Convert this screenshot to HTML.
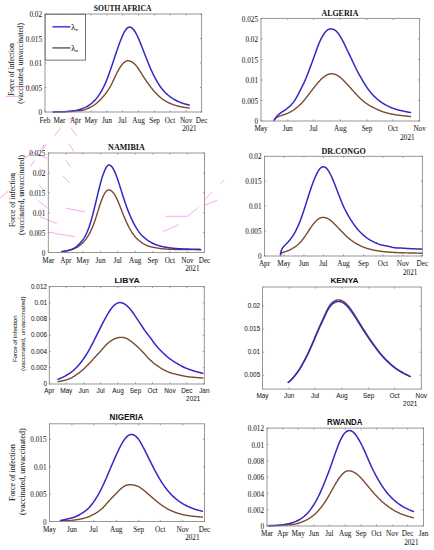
<!DOCTYPE html>
<html><head><meta charset="utf-8"><style>
html,body{margin:0;padding:0;background:#fff;width:434px;height:550px;overflow:hidden}
svg{display:block}
</style></head><body>
<svg width="434" height="550" viewBox="0 0 434 550">
<rect width="434" height="550" fill="#fff"/>
<polyline points="12.4,86.8 30.4,86.8" fill="none" stroke="#ff9cf0" stroke-width="0.9"/>
<polyline points="5.5,96.4 18.7,96.4" fill="none" stroke="#ff9cf0" stroke-width="0.9"/>
<polyline points="68.4,119.1 73.5,117.6 78.7,119.1" fill="none" stroke="#ff9cf0" stroke-width="0.9"/>
<polyline points="54.5,135.7 60.7,128.1" fill="none" stroke="#ff9cf0" stroke-width="0.9"/>
<polyline points="71.1,128.1 76.7,135.7" fill="none" stroke="#ff9cf0" stroke-width="0.9"/>
<polyline points="69.0,144.0 73.9,151.7" fill="none" stroke="#ff9cf0" stroke-width="0.9"/>
<polyline points="42.8,149.6 46.2,144.0" fill="none" stroke="#ff9cf0" stroke-width="0.9"/>
<polyline points="24.9,158.2 32.5,152.5 47.0,158.2" fill="none" stroke="#ff9cf0" stroke-width="0.9"/>
<polyline points="44.3,144.4 40.0,151.3" fill="none" stroke="#ff9cf0" stroke-width="0.9"/>
<polyline points="34.6,160.3 30.4,166.5" fill="none" stroke="#ff9cf0" stroke-width="0.9"/>
<polyline points="39.4,167.9 45.0,173.4" fill="none" stroke="#ff9cf0" stroke-width="0.9"/>
<polyline points="16.6,172.0 11.8,177.6" fill="none" stroke="#ff9cf0" stroke-width="0.9"/>
<polyline points="38.7,184.8 45.6,192.4" fill="none" stroke="#ff9cf0" stroke-width="0.9"/>
<polyline points="38.0,200.7 47.0,207.7" fill="none" stroke="#ff9cf0" stroke-width="0.9"/>
<polyline points="40.1,216.7 56.7,223.6" fill="none" stroke="#ff9cf0" stroke-width="0.9"/>
<polyline points="49.8,231.9 60.0,234.6" fill="none" stroke="#ff9cf0" stroke-width="0.9"/>
<polyline points="0.0,198.0 8.3,191.0" fill="none" stroke="#ff9cf0" stroke-width="0.9"/>
<polyline points="65.9,160.3 70.7,167.2" fill="none" stroke="#ff9cf0" stroke-width="0.9"/>
<polyline points="63.1,176.2 69.4,182.4" fill="none" stroke="#ff9cf0" stroke-width="0.9"/>
<polyline points="165.5,216.3 187.3,216.3 198.5,207.4" fill="none" stroke="#ff9cf0" stroke-width="0.9"/>
<polyline points="203.4,205.8 217.1,200.2" fill="none" stroke="#ff9cf0" stroke-width="0.9"/>
<polyline points="205.0,199.4 212.3,192.1" fill="none" stroke="#ff9cf0" stroke-width="0.9"/>
<polyline points="163.1,231.6 179.2,224.4" fill="none" stroke="#ff9cf0" stroke-width="0.9"/>
<polyline points="220.3,183.2 224.4,180.0" fill="none" stroke="#ff9cf0" stroke-width="0.9"/>
<polyline points="65.8,208.2 85.0,212.0" fill="none" stroke="#ff9cf0" stroke-width="0.9"/>
<polyline points="60.0,234.2 74.5,236.6" fill="none" stroke="#ff9cf0" stroke-width="0.9"/>
<path d="M53.30,111.94 L53.80,111.93 L54.30,111.93 L54.80,111.92 L55.30,111.91 L55.80,111.90 L56.30,111.88 L56.80,111.87 L57.30,111.86 L57.80,111.84 L58.30,111.83 L58.80,111.81 L59.30,111.80 L59.80,111.78 L60.29,111.77 L60.79,111.76 L61.29,111.74 L61.79,111.73 L62.29,111.72 L62.79,111.71 L63.29,111.70 L63.79,111.70 L64.29,111.69 L64.79,111.69 L65.29,111.68 L65.79,111.68 L66.29,111.67 L66.79,111.66 L67.29,111.65 L67.79,111.64 L68.29,111.62 L68.79,111.60 L69.29,111.58 L69.79,111.55 L70.29,111.52 L70.79,111.48 L71.29,111.44 L71.79,111.40 L72.29,111.35 L72.79,111.30 L73.29,111.24 L73.78,111.19 L74.28,111.13 L74.78,111.07 L75.28,111.02 L75.78,110.96 L76.28,110.92 L76.78,110.88 L77.28,110.85 L77.78,110.82 L78.28,110.80 L78.78,110.78 L79.28,110.75 L79.78,110.72 L80.28,110.68 L80.78,110.63 L81.28,110.57 L81.78,110.49 L82.28,110.40 L82.78,110.30 L83.28,110.19 L83.78,110.05 L84.28,109.91 L84.78,109.74 L85.28,109.56 L85.78,109.37 L86.28,109.16 L86.78,108.93 L87.27,108.70 L87.77,108.47 L88.27,108.24 L88.77,108.00 L89.27,107.77 L89.77,107.53 L90.27,107.29 L90.77,107.05 L91.27,106.80 L91.77,106.54 L92.27,106.26 L92.77,105.98 L93.27,105.67 L93.77,105.35 L94.27,105.01 L94.77,104.65 L95.27,104.26 L95.77,103.87 L96.27,103.45 L96.77,103.03 L97.27,102.59 L97.77,102.15 L98.27,101.70 L98.77,101.24 L99.27,100.76 L99.77,100.28 L100.27,99.79 L100.77,99.29 L101.26,98.77 L101.76,98.24 L102.26,97.69 L102.76,97.13 L103.26,96.55 L103.76,95.95 L104.26,95.34 L104.76,94.72 L105.26,94.08 L105.76,93.43 L106.26,92.76 L106.76,92.08 L107.26,91.38 L107.76,90.66 L108.26,89.92 L108.76,89.15 L109.26,88.34 L109.76,87.51 L110.26,86.64 L110.76,85.73 L111.26,84.78 L111.76,83.79 L112.26,82.76 L112.76,81.71 L113.26,80.64 L113.76,79.55 L114.26,78.47 L114.75,77.39 L115.25,76.33 L115.75,75.28 L116.25,74.27 L116.75,73.27 L117.25,72.30 L117.75,71.36 L118.25,70.45 L118.75,69.56 L119.25,68.71 L119.75,67.89 L120.25,67.11 L120.75,66.37 L121.25,65.66 L121.75,65.00 L122.25,64.37 L122.75,63.79 L123.25,63.26 L123.75,62.77 L124.25,62.33 L124.75,61.94 L125.25,61.61 L125.75,61.33 L126.25,61.10 L126.75,60.93 L127.25,60.82 L127.75,60.77 L128.24,60.77 L128.74,60.81 L129.24,60.89 L129.74,61.01 L130.24,61.17 L130.74,61.36 L131.24,61.58 L131.74,61.84 L132.24,62.13 L132.74,62.45 L133.24,62.81 L133.74,63.21 L134.24,63.65 L134.74,64.12 L135.24,64.64 L135.74,65.19 L136.24,65.79 L136.74,66.42 L137.24,67.08 L137.74,67.77 L138.24,68.49 L138.74,69.24 L139.24,70.01 L139.74,70.79 L140.24,71.58 L140.74,72.38 L141.24,73.18 L141.73,73.98 L142.23,74.77 L142.73,75.56 L143.23,76.34 L143.73,77.12 L144.23,77.88 L144.73,78.64 L145.23,79.38 L145.73,80.12 L146.23,80.85 L146.73,81.57 L147.23,82.29 L147.73,83.00 L148.23,83.70 L148.73,84.40 L149.23,85.09 L149.73,85.77 L150.23,86.44 L150.73,87.10 L151.23,87.74 L151.73,88.38 L152.23,89.00 L152.73,89.61 L153.23,90.21 L153.73,90.79 L154.23,91.37 L154.73,91.92 L155.22,92.47 L155.72,93.00 L156.22,93.53 L156.72,94.04 L157.22,94.53 L157.72,95.02 L158.22,95.50 L158.72,95.96 L159.22,96.41 L159.72,96.85 L160.22,97.28 L160.72,97.70 L161.22,98.10 L161.72,98.49 L162.22,98.86 L162.72,99.23 L163.22,99.58 L163.72,99.92 L164.22,100.25 L164.72,100.57 L165.22,100.87 L165.72,101.17 L166.22,101.46 L166.72,101.74 L167.22,102.01 L167.72,102.27 L168.22,102.52 L168.72,102.77 L169.21,103.01 L169.71,103.24 L170.21,103.46 L170.71,103.67 L171.21,103.88 L171.71,104.08 L172.21,104.28 L172.71,104.46 L173.21,104.65 L173.71,104.82 L174.21,104.99 L174.71,105.15 L175.21,105.30 L175.71,105.45 L176.21,105.60 L176.71,105.74 L177.21,105.87 L177.71,106.00 L178.21,106.13 L178.71,106.25 L179.21,106.36 L179.71,106.48 L180.21,106.59 L180.71,106.69 L181.21,106.79 L181.71,106.89 L182.21,106.99 L182.70,107.08 L183.20,107.17 L183.70,107.25 L184.20,107.33 L184.70,107.41 L185.20,107.49 L185.70,107.56 L186.20,107.63 L186.70,107.70 L187.20,107.77 L187.70,107.83 L188.20,107.90 L188.70,107.96 L189.20,108.01" fill="none" stroke="#7a4a30" stroke-width="1.4" stroke-linejoin="round" stroke-linecap="round"/>
<path d="M53.30,111.92 L53.80,111.91 L54.30,111.90 L54.80,111.89 L55.30,111.88 L55.80,111.86 L56.30,111.84 L56.80,111.83 L57.30,111.81 L57.80,111.80 L58.30,111.78 L58.80,111.77 L59.30,111.76 L59.80,111.75 L60.29,111.75 L60.79,111.74 L61.29,111.74 L61.79,111.73 L62.29,111.73 L62.79,111.72 L63.29,111.70 L63.79,111.68 L64.29,111.66 L64.79,111.64 L65.29,111.61 L65.79,111.57 L66.29,111.54 L66.79,111.50 L67.29,111.45 L67.79,111.40 L68.29,111.36 L68.79,111.30 L69.29,111.25 L69.79,111.21 L70.29,111.16 L70.79,111.11 L71.29,111.06 L71.79,111.02 L72.29,110.97 L72.79,110.91 L73.29,110.85 L73.78,110.79 L74.28,110.72 L74.78,110.64 L75.28,110.56 L75.78,110.47 L76.28,110.37 L76.78,110.26 L77.28,110.15 L77.78,110.02 L78.28,109.89 L78.78,109.76 L79.28,109.62 L79.78,109.47 L80.28,109.32 L80.78,109.17 L81.28,109.01 L81.78,108.84 L82.28,108.67 L82.78,108.49 L83.28,108.30 L83.78,108.10 L84.28,107.89 L84.78,107.67 L85.28,107.43 L85.78,107.18 L86.28,106.92 L86.78,106.64 L87.27,106.35 L87.77,106.04 L88.27,105.72 L88.77,105.39 L89.27,105.05 L89.77,104.70 L90.27,104.33 L90.77,103.95 L91.27,103.56 L91.77,103.15 L92.27,102.73 L92.77,102.29 L93.27,101.83 L93.77,101.35 L94.27,100.85 L94.77,100.33 L95.27,99.79 L95.77,99.23 L96.27,98.64 L96.77,98.02 L97.27,97.39 L97.77,96.72 L98.27,96.04 L98.77,95.33 L99.27,94.59 L99.77,93.83 L100.27,93.04 L100.77,92.23 L101.26,91.39 L101.76,90.52 L102.26,89.61 L102.76,88.68 L103.26,87.72 L103.76,86.72 L104.26,85.68 L104.76,84.61 L105.26,83.49 L105.76,82.34 L106.26,81.15 L106.76,79.92 L107.26,78.65 L107.76,77.34 L108.26,75.99 L108.76,74.62 L109.26,73.22 L109.76,71.81 L110.26,70.37 L110.76,68.93 L111.26,67.47 L111.76,66.00 L112.26,64.52 L112.76,63.03 L113.26,61.54 L113.76,60.04 L114.26,58.54 L114.75,57.05 L115.25,55.56 L115.75,54.07 L116.25,52.59 L116.75,51.12 L117.25,49.66 L117.75,48.21 L118.25,46.78 L118.75,45.36 L119.25,43.97 L119.75,42.61 L120.25,41.28 L120.75,39.98 L121.25,38.72 L121.75,37.51 L122.25,36.34 L122.75,35.23 L123.25,34.17 L123.75,33.17 L124.25,32.23 L124.75,31.35 L125.25,30.55 L125.75,29.82 L126.25,29.18 L126.75,28.61 L127.25,28.13 L127.75,27.74 L128.24,27.45 L128.74,27.24 L129.24,27.12 L129.74,27.09 L130.24,27.15 L130.74,27.29 L131.24,27.52 L131.74,27.83 L132.24,28.21 L132.74,28.67 L133.24,29.21 L133.74,29.81 L134.24,30.49 L134.74,31.23 L135.24,32.03 L135.74,32.89 L136.24,33.80 L136.74,34.77 L137.24,35.79 L137.74,36.85 L138.24,37.94 L138.74,39.08 L139.24,40.24 L139.74,41.44 L140.24,42.65 L140.74,43.89 L141.24,45.14 L141.73,46.41 L142.23,47.69 L142.73,48.97 L143.23,50.26 L143.73,51.56 L144.23,52.85 L144.73,54.15 L145.23,55.44 L145.73,56.73 L146.23,58.02 L146.73,59.29 L147.23,60.56 L147.73,61.81 L148.23,63.04 L148.73,64.26 L149.23,65.47 L149.73,66.65 L150.23,67.81 L150.73,68.95 L151.23,70.07 L151.73,71.16 L152.23,72.24 L152.73,73.29 L153.23,74.32 L153.73,75.32 L154.23,76.30 L154.73,77.26 L155.22,78.20 L155.72,79.12 L156.22,80.02 L156.72,80.90 L157.22,81.75 L157.72,82.59 L158.22,83.41 L158.72,84.20 L159.22,84.97 L159.72,85.73 L160.22,86.45 L160.72,87.16 L161.22,87.84 L161.72,88.49 L162.22,89.12 L162.72,89.73 L163.22,90.32 L163.72,90.88 L164.22,91.42 L164.72,91.95 L165.22,92.45 L165.72,92.94 L166.22,93.42 L166.72,93.88 L167.22,94.34 L167.72,94.78 L168.22,95.21 L168.72,95.62 L169.21,96.03 L169.71,96.42 L170.21,96.81 L170.71,97.18 L171.21,97.54 L171.71,97.88 L172.21,98.22 L172.71,98.54 L173.21,98.86 L173.71,99.16 L174.21,99.45 L174.71,99.73 L175.21,100.00 L175.71,100.26 L176.21,100.51 L176.71,100.76 L177.21,101.00 L177.71,101.24 L178.21,101.46 L178.71,101.68 L179.21,101.90 L179.71,102.11 L180.21,102.31 L180.71,102.51 L181.21,102.70 L181.71,102.89 L182.21,103.07 L182.70,103.25 L183.20,103.42 L183.70,103.59 L184.20,103.75 L184.70,103.90 L185.20,104.05 L185.70,104.20 L186.20,104.33 L186.70,104.47 L187.20,104.59 L187.70,104.71 L188.20,104.83 L188.70,104.94 L189.20,105.05" fill="none" stroke="#3626c2" stroke-width="1.5" stroke-linejoin="round" stroke-linecap="round"/>
<rect x="45.00" y="14.00" width="156.60" height="98.00" fill="none" stroke="#8c8c8c" stroke-width="0.9"/>
<text x="45.00" y="123.08" font-family='"Liberation Serif", serif' font-size="7.20" text-anchor="middle" fill="#222222" stroke="#222" stroke-width="0.05">Feb</text>
<text x="59.47" y="123.08" font-family='"Liberation Serif", serif' font-size="7.20" text-anchor="middle" fill="#222222" stroke="#222" stroke-width="0.05">Mar</text>
<text x="75.49" y="123.08" font-family='"Liberation Serif", serif' font-size="7.20" text-anchor="middle" fill="#222222" stroke="#222" stroke-width="0.05">Apr</text>
<text x="91.00" y="123.08" font-family='"Liberation Serif", serif' font-size="7.20" text-anchor="middle" fill="#222222" stroke="#222" stroke-width="0.05">May</text>
<text x="107.02" y="123.08" font-family='"Liberation Serif", serif' font-size="7.20" text-anchor="middle" fill="#222222" stroke="#222" stroke-width="0.05">Jun</text>
<text x="122.52" y="123.08" font-family='"Liberation Serif", serif' font-size="7.20" text-anchor="middle" fill="#222222" stroke="#222" stroke-width="0.05">Jul</text>
<text x="138.55" y="123.08" font-family='"Liberation Serif", serif' font-size="7.20" text-anchor="middle" fill="#222222" stroke="#222" stroke-width="0.05">Aug</text>
<text x="154.57" y="123.08" font-family='"Liberation Serif", serif' font-size="7.20" text-anchor="middle" fill="#222222" stroke="#222" stroke-width="0.05">Sep</text>
<text x="170.07" y="123.08" font-family='"Liberation Serif", serif' font-size="7.20" text-anchor="middle" fill="#222222" stroke="#222" stroke-width="0.05">Oct</text>
<text x="186.10" y="123.08" font-family='"Liberation Serif", serif' font-size="7.20" text-anchor="middle" fill="#222222" stroke="#222" stroke-width="0.05">Nov</text>
<text x="201.60" y="123.08" font-family='"Liberation Serif", serif' font-size="7.20" text-anchor="middle" fill="#222222" stroke="#222" stroke-width="0.05">Dec</text>
<text x="42.00" y="115.18" font-family='"Liberation Serif", serif' font-size="7.20" text-anchor="end" fill="#222222" stroke="#222" stroke-width="0.05">0</text>
<text x="42.00" y="90.68" font-family='"Liberation Serif", serif' font-size="7.20" text-anchor="end" fill="#222222" stroke="#222" stroke-width="0.05">0.005</text>
<text x="42.00" y="66.18" font-family='"Liberation Serif", serif' font-size="7.20" text-anchor="end" fill="#222222" stroke="#222" stroke-width="0.05">0.01</text>
<text x="42.00" y="41.68" font-family='"Liberation Serif", serif' font-size="7.20" text-anchor="end" fill="#222222" stroke="#222" stroke-width="0.05">0.015</text>
<text x="42.00" y="17.18" font-family='"Liberation Serif", serif' font-size="7.20" text-anchor="end" fill="#222222" stroke="#222" stroke-width="0.05">0.02</text>
<path d="M45.00,112.00v-1.6M45.00,14.00v1.6M59.47,112.00v-1.6M59.47,14.00v1.6M75.49,112.00v-1.6M75.49,14.00v1.6M91.00,112.00v-1.6M91.00,14.00v1.6M107.02,112.00v-1.6M107.02,14.00v1.6M122.52,112.00v-1.6M122.52,14.00v1.6M138.55,112.00v-1.6M138.55,14.00v1.6M154.57,112.00v-1.6M154.57,14.00v1.6M170.07,112.00v-1.6M170.07,14.00v1.6M186.10,112.00v-1.6M186.10,14.00v1.6M201.60,112.00v-1.6M201.60,14.00v1.6M45.00,112.00h1.6M201.60,112.00h-1.6M45.00,87.50h1.6M201.60,87.50h-1.6M45.00,63.00h1.6M201.60,63.00h-1.6M45.00,38.50h1.6M201.60,38.50h-1.6M45.00,14.00h1.6M201.60,14.00h-1.6" stroke="#8c8c8c" stroke-width="0.8" fill="none"/>
<text x="196.60" y="131.38" font-family='"Liberation Serif", serif' font-size="7.20" text-anchor="end" fill="#222222" stroke="#222" stroke-width="0.05">2021</text>
<text x="93.80" y="11.20" font-family='"Liberation Serif", serif' font-size="7.60" font-weight="bold" textLength="57.70" lengthAdjust="spacingAndGlyphs" fill="#111">SOUTH AFRICA</text>
<text transform="translate(13.90,69.55) rotate(-90)" x="0" y="0" font-family='"Liberation Serif", serif' font-size="7.50" text-anchor="middle" textLength="52.50" lengthAdjust="spacingAndGlyphs" fill="#222222" stroke="#222" stroke-width="0.05">Force of infection</text>
<text transform="translate(23.20,63.35) rotate(-90)" x="0" y="0" font-family='"Liberation Serif", serif' font-size="7.50" text-anchor="middle" textLength="80.90" lengthAdjust="spacingAndGlyphs" fill="#222222" stroke="#222" stroke-width="0.05">(vaccinated, unvaccinated)</text>
<rect x="45.2" y="14.3" width="40.4" height="45.8" fill="#fff" stroke="#555" stroke-width="0.8"/>
<line x1="52.4" y1="26.8" x2="70.4" y2="26.8" stroke="#5a48e0" stroke-width="1.7"/>
<line x1="52.4" y1="47.9" x2="70.4" y2="47.9" stroke="#8a7060" stroke-width="1.7"/>
<text x="71.2" y="29.6" font-family='"Liberation Serif", serif' font-size="8.2" fill="#1a1a1a" stroke="#1a1a1a" stroke-width="0.12">&#955;<tspan font-size="5" dy="1.3">v</tspan></text>
<text x="71.2" y="50.7" font-family='"Liberation Serif", serif' font-size="8.2" fill="#1a1a1a" stroke="#1a1a1a" stroke-width="0.12">&#955;<tspan font-size="5" dy="1.3">u</tspan></text>
<path d="M274.10,120.49 L274.60,119.57 L275.10,118.85 L275.60,118.29 L276.10,117.83 L276.60,117.46 L277.10,117.15 L277.60,116.89 L278.10,116.67 L278.60,116.46 L279.10,116.28 L279.60,116.11 L280.10,115.95 L280.60,115.80 L281.09,115.65 L281.59,115.50 L282.09,115.35 L282.59,115.20 L283.09,115.04 L283.59,114.88 L284.09,114.71 L284.59,114.53 L285.09,114.34 L285.59,114.15 L286.09,113.95 L286.59,113.74 L287.09,113.52 L287.59,113.30 L288.09,113.07 L288.59,112.84 L289.09,112.59 L289.59,112.34 L290.09,112.08 L290.59,111.81 L291.09,111.54 L291.59,111.25 L292.09,110.95 L292.59,110.65 L293.09,110.33 L293.59,109.99 L294.09,109.65 L294.58,109.29 L295.08,108.93 L295.58,108.55 L296.08,108.16 L296.58,107.76 L297.08,107.35 L297.58,106.93 L298.08,106.49 L298.58,106.05 L299.08,105.60 L299.58,105.14 L300.08,104.67 L300.58,104.18 L301.08,103.68 L301.58,103.16 L302.08,102.63 L302.58,102.09 L303.08,101.53 L303.58,100.96 L304.08,100.38 L304.58,99.79 L305.08,99.18 L305.58,98.56 L306.08,97.93 L306.58,97.29 L307.08,96.64 L307.58,95.99 L308.08,95.33 L308.57,94.67 L309.07,94.01 L309.57,93.35 L310.07,92.69 L310.57,92.03 L311.07,91.37 L311.57,90.71 L312.07,90.05 L312.57,89.39 L313.07,88.74 L313.57,88.09 L314.07,87.45 L314.57,86.82 L315.07,86.19 L315.57,85.57 L316.07,84.95 L316.57,84.35 L317.07,83.75 L317.57,83.16 L318.07,82.58 L318.57,82.01 L319.07,81.46 L319.57,80.91 L320.07,80.38 L320.57,79.86 L321.07,79.36 L321.57,78.87 L322.06,78.40 L322.56,77.95 L323.06,77.52 L323.56,77.10 L324.06,76.71 L324.56,76.34 L325.06,75.99 L325.56,75.66 L326.06,75.36 L326.56,75.08 L327.06,74.83 L327.56,74.60 L328.06,74.40 L328.56,74.22 L329.06,74.07 L329.56,73.95 L330.06,73.86 L330.56,73.79 L331.06,73.75 L331.56,73.73 L332.06,73.74 L332.56,73.78 L333.06,73.84 L333.56,73.93 L334.06,74.04 L334.56,74.18 L335.06,74.35 L335.55,74.53 L336.05,74.75 L336.55,74.98 L337.05,75.24 L337.55,75.52 L338.05,75.83 L338.55,76.15 L339.05,76.50 L339.55,76.86 L340.05,77.25 L340.55,77.65 L341.05,78.08 L341.55,78.52 L342.05,78.97 L342.55,79.44 L343.05,79.93 L343.55,80.43 L344.05,80.94 L344.55,81.45 L345.05,81.98 L345.55,82.51 L346.05,83.05 L346.55,83.60 L347.05,84.14 L347.55,84.69 L348.05,85.24 L348.55,85.80 L349.05,86.35 L349.54,86.90 L350.04,87.46 L350.54,88.02 L351.04,88.57 L351.54,89.13 L352.04,89.69 L352.54,90.24 L353.04,90.80 L353.54,91.35 L354.04,91.90 L354.54,92.45 L355.04,93.00 L355.54,93.54 L356.04,94.08 L356.54,94.62 L357.04,95.16 L357.54,95.69 L358.04,96.21 L358.54,96.72 L359.04,97.23 L359.54,97.72 L360.04,98.20 L360.54,98.67 L361.04,99.14 L361.54,99.59 L362.04,100.03 L362.54,100.46 L363.03,100.88 L363.53,101.29 L364.03,101.69 L364.53,102.08 L365.03,102.46 L365.53,102.84 L366.03,103.20 L366.53,103.55 L367.03,103.90 L367.53,104.24 L368.03,104.57 L368.53,104.90 L369.03,105.22 L369.53,105.53 L370.03,105.83 L370.53,106.12 L371.03,106.41 L371.53,106.68 L372.03,106.95 L372.53,107.21 L373.03,107.46 L373.53,107.71 L374.03,107.96 L374.53,108.20 L375.03,108.43 L375.53,108.67 L376.03,108.90 L376.52,109.13 L377.02,109.35 L377.52,109.57 L378.02,109.79 L378.52,110.01 L379.02,110.23 L379.52,110.44 L380.02,110.65 L380.52,110.85 L381.02,111.05 L381.52,111.25 L382.02,111.44 L382.52,111.62 L383.02,111.80 L383.52,111.97 L384.02,112.13 L384.52,112.28 L385.02,112.44 L385.52,112.58 L386.02,112.72 L386.52,112.86 L387.02,112.99 L387.52,113.12 L388.02,113.25 L388.52,113.38 L389.02,113.50 L389.52,113.61 L390.02,113.73 L390.51,113.84 L391.01,113.94 L391.51,114.05 L392.01,114.15 L392.51,114.25 L393.01,114.34 L393.51,114.43 L394.01,114.52 L394.51,114.60 L395.01,114.68 L395.51,114.76 L396.01,114.83 L396.51,114.91 L397.01,114.98 L397.51,115.04 L398.01,115.11 L398.51,115.17 L399.01,115.24 L399.51,115.30 L400.01,115.36 L400.51,115.42 L401.01,115.48 L401.51,115.54 L402.01,115.59 L402.51,115.65 L403.01,115.71 L403.51,115.77 L404.00,115.83 L404.50,115.89 L405.00,115.95 L405.50,116.01 L406.00,116.07 L406.50,116.13 L407.00,116.19 L407.50,116.24 L408.00,116.30 L408.50,116.35 L409.00,116.39 L409.50,116.44 L410.00,116.48 L410.50,116.51" fill="none" stroke="#7a4a30" stroke-width="1.4" stroke-linejoin="round" stroke-linecap="round"/>
<path d="M274.10,120.36 L274.60,119.46 L275.10,118.65 L275.60,117.92 L276.10,117.24 L276.60,116.63 L277.10,116.06 L277.60,115.53 L278.10,115.03 L278.60,114.57 L279.10,114.13 L279.60,113.72 L280.10,113.32 L280.60,112.95 L281.09,112.59 L281.59,112.24 L282.09,111.91 L282.59,111.58 L283.09,111.25 L283.59,110.92 L284.09,110.60 L284.59,110.27 L285.09,109.94 L285.59,109.59 L286.09,109.24 L286.59,108.88 L287.09,108.50 L287.59,108.11 L288.09,107.70 L288.59,107.28 L289.09,106.85 L289.59,106.39 L290.09,105.93 L290.59,105.44 L291.09,104.93 L291.59,104.41 L292.09,103.85 L292.59,103.27 L293.09,102.65 L293.59,102.00 L294.09,101.32 L294.58,100.60 L295.08,99.84 L295.58,99.05 L296.08,98.22 L296.58,97.37 L297.08,96.48 L297.58,95.57 L298.08,94.63 L298.58,93.67 L299.08,92.69 L299.58,91.70 L300.08,90.70 L300.58,89.69 L301.08,88.68 L301.58,87.67 L302.08,86.67 L302.58,85.66 L303.08,84.65 L303.58,83.62 L304.08,82.58 L304.58,81.50 L305.08,80.38 L305.58,79.23 L306.08,78.04 L306.58,76.81 L307.08,75.56 L307.58,74.28 L308.08,72.99 L308.57,71.68 L309.07,70.36 L309.57,69.04 L310.07,67.71 L310.57,66.38 L311.07,65.05 L311.57,63.71 L312.07,62.36 L312.57,61.00 L313.07,59.63 L313.57,58.25 L314.07,56.85 L314.57,55.45 L315.07,54.03 L315.57,52.62 L316.07,51.21 L316.57,49.81 L317.07,48.43 L317.57,47.08 L318.07,45.77 L318.57,44.50 L319.07,43.28 L319.57,42.12 L320.07,41.00 L320.57,39.93 L321.07,38.91 L321.57,37.94 L322.06,37.01 L322.56,36.13 L323.06,35.28 L323.56,34.48 L324.06,33.72 L324.56,33.01 L325.06,32.36 L325.56,31.75 L326.06,31.20 L326.56,30.71 L327.06,30.28 L327.56,29.91 L328.06,29.60 L328.56,29.35 L329.06,29.16 L329.56,29.02 L330.06,28.93 L330.56,28.89 L331.06,28.89 L331.56,28.94 L332.06,29.02 L332.56,29.13 L333.06,29.28 L333.56,29.46 L334.06,29.68 L334.56,29.95 L335.06,30.26 L335.55,30.62 L336.05,31.03 L336.55,31.49 L337.05,32.01 L337.55,32.58 L338.05,33.20 L338.55,33.86 L339.05,34.56 L339.55,35.31 L340.05,36.09 L340.55,36.90 L341.05,37.75 L341.55,38.63 L342.05,39.54 L342.55,40.48 L343.05,41.44 L343.55,42.43 L344.05,43.44 L344.55,44.47 L345.05,45.51 L345.55,46.56 L346.05,47.60 L346.55,48.65 L347.05,49.70 L347.55,50.74 L348.05,51.78 L348.55,52.81 L349.05,53.85 L349.54,54.88 L350.04,55.91 L350.54,56.95 L351.04,58.00 L351.54,59.05 L352.04,60.10 L352.54,61.17 L353.04,62.24 L353.54,63.31 L354.04,64.37 L354.54,65.44 L355.04,66.49 L355.54,67.52 L356.04,68.54 L356.54,69.54 L357.04,70.52 L357.54,71.48 L358.04,72.42 L358.54,73.35 L359.04,74.26 L359.54,75.16 L360.04,76.05 L360.54,76.93 L361.04,77.81 L361.54,78.68 L362.04,79.55 L362.54,80.41 L363.03,81.26 L363.53,82.10 L364.03,82.94 L364.53,83.76 L365.03,84.57 L365.53,85.36 L366.03,86.13 L366.53,86.88 L367.03,87.61 L367.53,88.32 L368.03,89.02 L368.53,89.69 L369.03,90.35 L369.53,90.99 L370.03,91.62 L370.53,92.23 L371.03,92.83 L371.53,93.41 L372.03,93.98 L372.53,94.53 L373.03,95.07 L373.53,95.59 L374.03,96.11 L374.53,96.60 L375.03,97.09 L375.53,97.56 L376.03,98.02 L376.52,98.47 L377.02,98.90 L377.52,99.33 L378.02,99.74 L378.52,100.15 L379.02,100.54 L379.52,100.93 L380.02,101.30 L380.52,101.67 L381.02,102.03 L381.52,102.38 L382.02,102.72 L382.52,103.05 L383.02,103.37 L383.52,103.69 L384.02,104.00 L384.52,104.30 L385.02,104.59 L385.52,104.88 L386.02,105.16 L386.52,105.43 L387.02,105.69 L387.52,105.95 L388.02,106.20 L388.52,106.44 L389.02,106.67 L389.52,106.90 L390.02,107.12 L390.51,107.33 L391.01,107.54 L391.51,107.74 L392.01,107.93 L392.51,108.12 L393.01,108.31 L393.51,108.48 L394.01,108.66 L394.51,108.82 L395.01,108.99 L395.51,109.14 L396.01,109.30 L396.51,109.44 L397.01,109.59 L397.51,109.73 L398.01,109.86 L398.51,109.99 L399.01,110.12 L399.51,110.24 L400.01,110.36 L400.51,110.48 L401.01,110.60 L401.51,110.71 L402.01,110.82 L402.51,110.93 L403.01,111.03 L403.51,111.14 L404.00,111.25 L404.50,111.36 L405.00,111.47 L405.50,111.57 L406.00,111.68 L406.50,111.78 L407.00,111.89 L407.50,111.98 L408.00,112.08 L408.50,112.16 L409.00,112.25 L409.50,112.32 L410.00,112.39 L410.50,112.46" fill="none" stroke="#3626c2" stroke-width="1.5" stroke-linejoin="round" stroke-linecap="round"/>
<rect x="261.00" y="18.40" width="158.60" height="102.60" fill="none" stroke="#8c8c8c" stroke-width="0.9"/>
<text x="261.00" y="131.48" font-family='"Liberation Serif", serif' font-size="7.20" text-anchor="middle" fill="#222222" stroke="#222" stroke-width="0.05">May</text>
<text x="287.72" y="131.48" font-family='"Liberation Serif", serif' font-size="7.20" text-anchor="middle" fill="#222222" stroke="#222" stroke-width="0.05">Jun</text>
<text x="313.58" y="131.48" font-family='"Liberation Serif", serif' font-size="7.20" text-anchor="middle" fill="#222222" stroke="#222" stroke-width="0.05">Jul</text>
<text x="340.30" y="131.48" font-family='"Liberation Serif", serif' font-size="7.20" text-anchor="middle" fill="#222222" stroke="#222" stroke-width="0.05">Aug</text>
<text x="367.02" y="131.48" font-family='"Liberation Serif", serif' font-size="7.20" text-anchor="middle" fill="#222222" stroke="#222" stroke-width="0.05">Sep</text>
<text x="392.88" y="131.48" font-family='"Liberation Serif", serif' font-size="7.20" text-anchor="middle" fill="#222222" stroke="#222" stroke-width="0.05">Oct</text>
<text x="419.60" y="131.48" font-family='"Liberation Serif", serif' font-size="7.20" text-anchor="middle" fill="#222222" stroke="#222" stroke-width="0.05">Nov</text>
<text x="258.00" y="124.18" font-family='"Liberation Serif", serif' font-size="7.20" text-anchor="end" fill="#222222" stroke="#222" stroke-width="0.05">0</text>
<text x="258.00" y="103.66" font-family='"Liberation Serif", serif' font-size="7.20" text-anchor="end" fill="#222222" stroke="#222" stroke-width="0.05">0.005</text>
<text x="258.00" y="83.14" font-family='"Liberation Serif", serif' font-size="7.20" text-anchor="end" fill="#222222" stroke="#222" stroke-width="0.05">0.01</text>
<text x="258.00" y="62.62" font-family='"Liberation Serif", serif' font-size="7.20" text-anchor="end" fill="#222222" stroke="#222" stroke-width="0.05">0.015</text>
<text x="258.00" y="42.10" font-family='"Liberation Serif", serif' font-size="7.20" text-anchor="end" fill="#222222" stroke="#222" stroke-width="0.05">0.02</text>
<text x="258.00" y="21.58" font-family='"Liberation Serif", serif' font-size="7.20" text-anchor="end" fill="#222222" stroke="#222" stroke-width="0.05">0.025</text>
<path d="M261.00,121.00v-1.6M261.00,18.40v1.6M287.72,121.00v-1.6M287.72,18.40v1.6M313.58,121.00v-1.6M313.58,18.40v1.6M340.30,121.00v-1.6M340.30,18.40v1.6M367.02,121.00v-1.6M367.02,18.40v1.6M392.88,121.00v-1.6M392.88,18.40v1.6M419.60,121.00v-1.6M419.60,18.40v1.6M261.00,121.00h1.6M419.60,121.00h-1.6M261.00,100.48h1.6M419.60,100.48h-1.6M261.00,79.96h1.6M419.60,79.96h-1.6M261.00,59.44h1.6M419.60,59.44h-1.6M261.00,38.92h1.6M419.60,38.92h-1.6M261.00,18.40h1.6M419.60,18.40h-1.6" stroke="#8c8c8c" stroke-width="0.8" fill="none"/>
<text x="414.60" y="139.88" font-family='"Liberation Serif", serif' font-size="7.20" text-anchor="end" fill="#222222" stroke="#222" stroke-width="0.05">2021</text>
<text x="321.50" y="15.60" font-family='"Liberation Serif", serif' font-size="7.80" font-weight="bold" textLength="36.90" lengthAdjust="spacingAndGlyphs" fill="#111">ALGERIA</text>
<path d="M61.90,251.56 L62.40,251.50 L62.90,251.45 L63.40,251.39 L63.90,251.33 L64.39,251.27 L64.89,251.20 L65.39,251.12 L65.89,251.04 L66.39,250.96 L66.89,250.87 L67.39,250.77 L67.89,250.67 L68.39,250.56 L68.88,250.44 L69.38,250.32 L69.88,250.19 L70.38,250.05 L70.88,249.91 L71.38,249.76 L71.88,249.61 L72.38,249.45 L72.88,249.27 L73.38,249.09 L73.87,248.90 L74.37,248.69 L74.87,248.47 L75.37,248.23 L75.87,247.97 L76.37,247.69 L76.87,247.40 L77.37,247.08 L77.87,246.75 L78.36,246.41 L78.86,246.05 L79.36,245.67 L79.86,245.29 L80.36,244.89 L80.86,244.47 L81.36,244.04 L81.86,243.59 L82.36,243.12 L82.85,242.64 L83.35,242.14 L83.85,241.62 L84.35,241.08 L84.85,240.52 L85.35,239.92 L85.85,239.29 L86.35,238.62 L86.85,237.91 L87.34,237.16 L87.84,236.37 L88.34,235.54 L88.84,234.67 L89.34,233.76 L89.84,232.82 L90.34,231.83 L90.84,230.81 L91.34,229.74 L91.84,228.63 L92.33,227.48 L92.83,226.28 L93.33,225.03 L93.83,223.72 L94.33,222.36 L94.83,220.95 L95.33,219.48 L95.83,217.96 L96.33,216.40 L96.82,214.81 L97.32,213.20 L97.82,211.59 L98.32,209.98 L98.82,208.38 L99.32,206.81 L99.82,205.28 L100.32,203.78 L100.82,202.34 L101.31,200.94 L101.81,199.61 L102.31,198.34 L102.81,197.15 L103.31,196.03 L103.81,194.99 L104.31,194.03 L104.81,193.17 L105.31,192.40 L105.81,191.72 L106.30,191.15 L106.80,190.68 L107.30,190.31 L107.80,190.06 L108.30,189.91 L108.80,189.88 L109.30,189.93 L109.80,190.05 L110.30,190.24 L110.79,190.50 L111.29,190.83 L111.79,191.23 L112.29,191.70 L112.79,192.23 L113.29,192.82 L113.79,193.48 L114.29,194.20 L114.79,194.98 L115.28,195.82 L115.78,196.72 L116.28,197.68 L116.78,198.70 L117.28,199.77 L117.78,200.89 L118.28,202.06 L118.78,203.26 L119.28,204.49 L119.77,205.74 L120.27,207.02 L120.77,208.30 L121.27,209.59 L121.77,210.87 L122.27,212.15 L122.77,213.42 L123.27,214.68 L123.77,215.91 L124.27,217.13 L124.76,218.32 L125.26,219.49 L125.76,220.63 L126.26,221.74 L126.76,222.82 L127.26,223.87 L127.76,224.89 L128.26,225.88 L128.76,226.84 L129.25,227.77 L129.75,228.67 L130.25,229.55 L130.75,230.40 L131.25,231.22 L131.75,232.02 L132.25,232.78 L132.75,233.52 L133.25,234.24 L133.74,234.92 L134.24,235.57 L134.74,236.20 L135.24,236.79 L135.74,237.36 L136.24,237.90 L136.74,238.41 L137.24,238.90 L137.74,239.37 L138.23,239.82 L138.73,240.26 L139.23,240.68 L139.73,241.08 L140.23,241.47 L140.73,241.85 L141.23,242.21 L141.73,242.57 L142.23,242.90 L142.73,243.23 L143.22,243.54 L143.72,243.84 L144.22,244.14 L144.72,244.42 L145.22,244.69 L145.72,244.94 L146.22,245.19 L146.72,245.42 L147.22,245.64 L147.71,245.85 L148.21,246.03 L148.71,246.21 L149.21,246.37 L149.71,246.51 L150.21,246.65 L150.71,246.77 L151.21,246.88 L151.71,246.99 L152.20,247.09 L152.70,247.19 L153.20,247.29 L153.70,247.38 L154.20,247.47 L154.70,247.56 L155.20,247.65 L155.70,247.74 L156.20,247.83 L156.69,247.91 L157.19,248.00 L157.69,248.09 L158.19,248.17 L158.69,248.26 L159.19,248.34 L159.69,248.42 L160.19,248.50 L160.69,248.58 L161.19,248.65 L161.68,248.71 L162.18,248.77 L162.68,248.82 L163.18,248.87 L163.68,248.91 L164.18,248.95 L164.68,248.99 L165.18,249.02 L165.68,249.05 L166.17,249.08 L166.67,249.11 L167.17,249.14 L167.67,249.17 L168.17,249.19 L168.67,249.22 L169.17,249.24 L169.67,249.26 L170.17,249.29 L170.66,249.31 L171.16,249.33 L171.66,249.35 L172.16,249.37 L172.66,249.39 L173.16,249.40 L173.66,249.42 L174.16,249.43 L174.66,249.44 L175.16,249.45 L175.65,249.46 L176.15,249.47 L176.65,249.48 L177.15,249.49 L177.65,249.49 L178.15,249.50 L178.65,249.50 L179.15,249.50 L179.65,249.50 L180.14,249.51 L180.64,249.51 L181.14,249.51 L181.64,249.51 L182.14,249.52 L182.64,249.52 L183.14,249.52 L183.64,249.53 L184.14,249.53 L184.63,249.53 L185.13,249.54 L185.63,249.54 L186.13,249.54 L186.63,249.55 L187.13,249.55 L187.63,249.55 L188.13,249.56 L188.63,249.56 L189.12,249.56 L189.62,249.56 L190.12,249.57 L190.62,249.57 L191.12,249.57 L191.62,249.58 L192.12,249.58 L192.62,249.59 L193.12,249.59 L193.62,249.60 L194.11,249.61 L194.61,249.63 L195.11,249.65 L195.61,249.66 L196.11,249.68 L196.61,249.70 L197.11,249.72 L197.61,249.74 L198.11,249.76 L198.60,249.77 L199.10,249.78 L199.60,249.79 L200.10,249.79 L200.60,249.80" fill="none" stroke="#7a4a30" stroke-width="1.4" stroke-linejoin="round" stroke-linecap="round"/>
<path d="M61.90,251.63 L62.40,251.57 L62.90,251.51 L63.40,251.44 L63.90,251.36 L64.39,251.28 L64.89,251.19 L65.39,251.09 L65.89,250.98 L66.39,250.86 L66.89,250.73 L67.39,250.60 L67.89,250.47 L68.39,250.33 L68.88,250.18 L69.38,250.04 L69.88,249.88 L70.38,249.72 L70.88,249.56 L71.38,249.38 L71.88,249.20 L72.38,249.00 L72.88,248.79 L73.38,248.55 L73.87,248.30 L74.37,248.01 L74.87,247.70 L75.37,247.37 L75.87,247.00 L76.37,246.62 L76.87,246.21 L77.37,245.79 L77.87,245.34 L78.36,244.88 L78.86,244.39 L79.36,243.89 L79.86,243.37 L80.36,242.83 L80.86,242.26 L81.36,241.68 L81.86,241.08 L82.36,240.45 L82.85,239.80 L83.35,239.10 L83.85,238.36 L84.35,237.57 L84.85,236.72 L85.35,235.81 L85.85,234.84 L86.35,233.80 L86.85,232.70 L87.34,231.54 L87.84,230.31 L88.34,229.03 L88.84,227.68 L89.34,226.26 L89.84,224.78 L90.34,223.22 L90.84,221.60 L91.34,219.90 L91.84,218.14 L92.33,216.31 L92.83,214.42 L93.33,212.47 L93.83,210.47 L94.33,208.44 L94.83,206.37 L95.33,204.29 L95.83,202.20 L96.33,200.10 L96.82,198.00 L97.32,195.92 L97.82,193.85 L98.32,191.80 L98.82,189.77 L99.32,187.78 L99.82,185.84 L100.32,183.94 L100.82,182.10 L101.31,180.34 L101.81,178.64 L102.31,177.03 L102.81,175.50 L103.31,174.05 L103.81,172.68 L104.31,171.41 L104.81,170.23 L105.31,169.14 L105.81,168.17 L106.30,167.31 L106.80,166.58 L107.30,165.99 L107.80,165.53 L108.30,165.22 L108.80,165.06 L109.30,165.04 L109.80,165.13 L110.30,165.34 L110.79,165.66 L111.29,166.09 L111.79,166.63 L112.29,167.28 L112.79,168.03 L113.29,168.87 L113.79,169.80 L114.29,170.82 L114.79,171.91 L115.28,173.07 L115.78,174.30 L116.28,175.58 L116.78,176.92 L117.28,178.31 L117.78,179.75 L118.28,181.23 L118.78,182.74 L119.28,184.28 L119.77,185.85 L120.27,187.44 L120.77,189.03 L121.27,190.63 L121.77,192.23 L122.27,193.83 L122.77,195.41 L123.27,196.97 L123.77,198.52 L124.27,200.04 L124.76,201.54 L125.26,203.01 L125.76,204.45 L126.26,205.85 L126.76,207.23 L127.26,208.57 L127.76,209.88 L128.26,211.16 L128.76,212.41 L129.25,213.63 L129.75,214.82 L130.25,215.98 L130.75,217.12 L131.25,218.22 L131.75,219.30 L132.25,220.36 L132.75,221.38 L133.25,222.38 L133.74,223.36 L134.24,224.31 L134.74,225.23 L135.24,226.12 L135.74,226.99 L136.24,227.83 L136.74,228.63 L137.24,229.41 L137.74,230.16 L138.23,230.88 L138.73,231.58 L139.23,232.24 L139.73,232.88 L140.23,233.49 L140.73,234.08 L141.23,234.64 L141.73,235.17 L142.23,235.69 L142.73,236.18 L143.22,236.66 L143.72,237.12 L144.22,237.56 L144.72,237.99 L145.22,238.41 L145.72,238.82 L146.22,239.21 L146.72,239.59 L147.22,239.95 L147.71,240.31 L148.21,240.66 L148.71,240.99 L149.21,241.31 L149.71,241.63 L150.21,241.93 L150.71,242.22 L151.21,242.50 L151.71,242.78 L152.20,243.04 L152.70,243.29 L153.20,243.54 L153.70,243.77 L154.20,244.00 L154.70,244.21 L155.20,244.41 L155.70,244.61 L156.20,244.80 L156.69,244.98 L157.19,245.15 L157.69,245.32 L158.19,245.48 L158.69,245.63 L159.19,245.78 L159.69,245.92 L160.19,246.06 L160.69,246.19 L161.19,246.32 L161.68,246.44 L162.18,246.56 L162.68,246.67 L163.18,246.78 L163.68,246.88 L164.18,246.98 L164.68,247.08 L165.18,247.17 L165.68,247.26 L166.17,247.34 L166.67,247.43 L167.17,247.50 L167.67,247.58 L168.17,247.65 L168.67,247.72 L169.17,247.79 L169.67,247.86 L170.17,247.92 L170.66,247.98 L171.16,248.04 L171.66,248.10 L172.16,248.15 L172.66,248.20 L173.16,248.25 L173.66,248.30 L174.16,248.35 L174.66,248.39 L175.16,248.44 L175.65,248.48 L176.15,248.52 L176.65,248.56 L177.15,248.60 L177.65,248.64 L178.15,248.67 L178.65,248.70 L179.15,248.73 L179.65,248.77 L180.14,248.79 L180.64,248.82 L181.14,248.85 L181.64,248.87 L182.14,248.90 L182.64,248.92 L183.14,248.94 L183.64,248.96 L184.14,248.98 L184.63,249.00 L185.13,249.02 L185.63,249.04 L186.13,249.06 L186.63,249.07 L187.13,249.09 L187.63,249.10 L188.13,249.12 L188.63,249.13 L189.12,249.15 L189.62,249.16 L190.12,249.18 L190.62,249.19 L191.12,249.20 L191.62,249.21 L192.12,249.22 L192.62,249.24 L193.12,249.25 L193.62,249.26 L194.11,249.27 L194.61,249.28 L195.11,249.29 L195.61,249.30 L196.11,249.31 L196.61,249.32 L197.11,249.33 L197.61,249.34 L198.11,249.35 L198.60,249.35 L199.10,249.36 L199.60,249.37 L200.10,249.38 L200.60,249.38" fill="none" stroke="#3626c2" stroke-width="1.5" stroke-linejoin="round" stroke-linecap="round"/>
<rect x="48.30" y="153.00" width="156.20" height="99.50" fill="none" stroke="#8c8c8c" stroke-width="0.9"/>
<text x="48.30" y="262.98" font-family='"Liberation Serif", serif' font-size="7.20" text-anchor="middle" fill="#222222" stroke="#222" stroke-width="0.05">Mar</text>
<text x="65.91" y="262.98" font-family='"Liberation Serif", serif' font-size="7.20" text-anchor="middle" fill="#222222" stroke="#222" stroke-width="0.05">Apr</text>
<text x="82.95" y="262.98" font-family='"Liberation Serif", serif' font-size="7.20" text-anchor="middle" fill="#222222" stroke="#222" stroke-width="0.05">May</text>
<text x="100.56" y="262.98" font-family='"Liberation Serif", serif' font-size="7.20" text-anchor="middle" fill="#222222" stroke="#222" stroke-width="0.05">Jun</text>
<text x="117.60" y="262.98" font-family='"Liberation Serif", serif' font-size="7.20" text-anchor="middle" fill="#222222" stroke="#222" stroke-width="0.05">Jul</text>
<text x="135.20" y="262.98" font-family='"Liberation Serif", serif' font-size="7.20" text-anchor="middle" fill="#222222" stroke="#222" stroke-width="0.05">Aug</text>
<text x="152.81" y="262.98" font-family='"Liberation Serif", serif' font-size="7.20" text-anchor="middle" fill="#222222" stroke="#222" stroke-width="0.05">Sep</text>
<text x="169.85" y="262.98" font-family='"Liberation Serif", serif' font-size="7.20" text-anchor="middle" fill="#222222" stroke="#222" stroke-width="0.05">Oct</text>
<text x="187.46" y="262.98" font-family='"Liberation Serif", serif' font-size="7.20" text-anchor="middle" fill="#222222" stroke="#222" stroke-width="0.05">Nov</text>
<text x="204.50" y="262.98" font-family='"Liberation Serif", serif' font-size="7.20" text-anchor="middle" fill="#222222" stroke="#222" stroke-width="0.05">Dec</text>
<text x="45.30" y="255.68" font-family='"Liberation Serif", serif' font-size="7.20" text-anchor="end" fill="#222222" stroke="#222" stroke-width="0.05">0</text>
<text x="45.30" y="235.78" font-family='"Liberation Serif", serif' font-size="7.20" text-anchor="end" fill="#222222" stroke="#222" stroke-width="0.05">0.005</text>
<text x="45.30" y="215.88" font-family='"Liberation Serif", serif' font-size="7.20" text-anchor="end" fill="#222222" stroke="#222" stroke-width="0.05">0.01</text>
<text x="45.30" y="195.98" font-family='"Liberation Serif", serif' font-size="7.20" text-anchor="end" fill="#222222" stroke="#222" stroke-width="0.05">0.015</text>
<text x="45.30" y="176.08" font-family='"Liberation Serif", serif' font-size="7.20" text-anchor="end" fill="#222222" stroke="#222" stroke-width="0.05">0.02</text>
<text x="45.30" y="156.18" font-family='"Liberation Serif", serif' font-size="7.20" text-anchor="end" fill="#222222" stroke="#222" stroke-width="0.05">0.025</text>
<path d="M48.30,252.50v-1.6M48.30,153.00v1.6M65.91,252.50v-1.6M65.91,153.00v1.6M82.95,252.50v-1.6M82.95,153.00v1.6M100.56,252.50v-1.6M100.56,153.00v1.6M117.60,252.50v-1.6M117.60,153.00v1.6M135.20,252.50v-1.6M135.20,153.00v1.6M152.81,252.50v-1.6M152.81,153.00v1.6M169.85,252.50v-1.6M169.85,153.00v1.6M187.46,252.50v-1.6M187.46,153.00v1.6M204.50,252.50v-1.6M204.50,153.00v1.6M48.30,252.50h1.6M204.50,252.50h-1.6M48.30,232.60h1.6M204.50,232.60h-1.6M48.30,212.70h1.6M204.50,212.70h-1.6M48.30,192.80h1.6M204.50,192.80h-1.6M48.30,172.90h1.6M204.50,172.90h-1.6M48.30,153.00h1.6M204.50,153.00h-1.6" stroke="#8c8c8c" stroke-width="0.8" fill="none"/>
<text x="199.50" y="271.38" font-family='"Liberation Serif", serif' font-size="7.20" text-anchor="end" fill="#222222" stroke="#222" stroke-width="0.05">2021</text>
<text x="108.10" y="150.10" font-family='"Liberation Serif", serif' font-size="7.80" font-weight="bold" textLength="36.60" lengthAdjust="spacingAndGlyphs" fill="#111">NAMIBIA</text>
<text transform="translate(15.00,199.90) rotate(-90)" x="0" y="0" font-family='"Liberation Serif", serif' font-size="7.50" text-anchor="middle" textLength="54.00" lengthAdjust="spacingAndGlyphs" fill="#222222" stroke="#222" stroke-width="0.05">Force of infection</text>
<text transform="translate(23.60,195.00) rotate(-90)" x="0" y="0" font-family='"Liberation Serif", serif' font-size="7.50" text-anchor="middle" textLength="80.20" lengthAdjust="spacingAndGlyphs" fill="#222222" stroke="#222" stroke-width="0.05">(vaccinated, unvaccinated)</text>
<path d="M280.40,255.22 L280.90,253.95 L281.40,253.26 L281.90,252.86 L282.39,252.61 L282.89,252.42 L283.39,252.26 L283.89,252.12 L284.39,251.98 L284.89,251.84 L285.39,251.68 L285.88,251.52 L286.38,251.35 L286.88,251.16 L287.38,250.96 L287.88,250.75 L288.38,250.53 L288.88,250.30 L289.37,250.06 L289.87,249.81 L290.37,249.56 L290.87,249.30 L291.37,249.03 L291.87,248.76 L292.37,248.47 L292.86,248.18 L293.36,247.88 L293.86,247.56 L294.36,247.24 L294.86,246.90 L295.36,246.56 L295.86,246.21 L296.35,245.84 L296.85,245.46 L297.35,245.06 L297.85,244.64 L298.35,244.21 L298.85,243.75 L299.35,243.26 L299.85,242.76 L300.34,242.23 L300.84,241.68 L301.34,241.11 L301.84,240.51 L302.34,239.90 L302.84,239.27 L303.34,238.61 L303.83,237.94 L304.33,237.25 L304.83,236.53 L305.33,235.81 L305.83,235.06 L306.33,234.31 L306.83,233.55 L307.32,232.78 L307.82,232.02 L308.32,231.26 L308.82,230.50 L309.32,229.75 L309.82,229.01 L310.32,228.28 L310.81,227.56 L311.31,226.86 L311.81,226.16 L312.31,225.48 L312.81,224.82 L313.31,224.18 L313.81,223.55 L314.30,222.95 L314.80,222.37 L315.30,221.81 L315.80,221.27 L316.30,220.77 L316.80,220.29 L317.30,219.84 L317.79,219.43 L318.29,219.05 L318.79,218.71 L319.29,218.40 L319.79,218.14 L320.29,217.91 L320.79,217.73 L321.28,217.58 L321.78,217.48 L322.28,217.41 L322.78,217.39 L323.28,217.40 L323.78,217.44 L324.28,217.50 L324.77,217.59 L325.27,217.70 L325.77,217.84 L326.27,218.00 L326.77,218.18 L327.27,218.39 L327.77,218.63 L328.26,218.88 L328.76,219.17 L329.26,219.48 L329.76,219.81 L330.26,220.17 L330.76,220.54 L331.26,220.94 L331.75,221.36 L332.25,221.80 L332.75,222.25 L333.25,222.72 L333.75,223.21 L334.25,223.70 L334.75,224.21 L335.25,224.72 L335.74,225.24 L336.24,225.77 L336.74,226.29 L337.24,226.82 L337.74,227.36 L338.24,227.89 L338.74,228.42 L339.23,228.95 L339.73,229.47 L340.23,230.00 L340.73,230.52 L341.23,231.04 L341.73,231.55 L342.23,232.06 L342.72,232.57 L343.22,233.07 L343.72,233.56 L344.22,234.06 L344.72,234.54 L345.22,235.02 L345.72,235.49 L346.21,235.96 L346.71,236.42 L347.21,236.87 L347.71,237.32 L348.21,237.75 L348.71,238.18 L349.21,238.60 L349.70,239.01 L350.20,239.41 L350.70,239.81 L351.20,240.19 L351.70,240.57 L352.20,240.94 L352.70,241.30 L353.19,241.65 L353.69,242.00 L354.19,242.33 L354.69,242.66 L355.19,242.98 L355.69,243.29 L356.19,243.59 L356.68,243.88 L357.18,244.17 L357.68,244.45 L358.18,244.72 L358.68,244.98 L359.18,245.23 L359.68,245.48 L360.17,245.72 L360.67,245.96 L361.17,246.18 L361.67,246.40 L362.17,246.62 L362.67,246.83 L363.17,247.03 L363.66,247.22 L364.16,247.41 L364.66,247.59 L365.16,247.77 L365.66,247.94 L366.16,248.11 L366.66,248.27 L367.15,248.43 L367.65,248.58 L368.15,248.72 L368.65,248.86 L369.15,249.00 L369.65,249.13 L370.15,249.26 L370.65,249.38 L371.14,249.50 L371.64,249.62 L372.14,249.74 L372.64,249.85 L373.14,249.96 L373.64,250.07 L374.14,250.17 L374.63,250.27 L375.13,250.37 L375.63,250.47 L376.13,250.56 L376.63,250.65 L377.13,250.74 L377.63,250.83 L378.12,250.91 L378.62,250.99 L379.12,251.06 L379.62,251.14 L380.12,251.20 L380.62,251.27 L381.12,251.34 L381.61,251.40 L382.11,251.46 L382.61,251.52 L383.11,251.57 L383.61,251.62 L384.11,251.68 L384.61,251.73 L385.10,251.77 L385.60,251.82 L386.10,251.87 L386.60,251.91 L387.10,251.95 L387.60,251.99 L388.10,252.03 L388.59,252.07 L389.09,252.11 L389.59,252.15 L390.09,252.18 L390.59,252.22 L391.09,252.25 L391.59,252.28 L392.08,252.31 L392.58,252.35 L393.08,252.37 L393.58,252.40 L394.08,252.43 L394.58,252.46 L395.08,252.48 L395.57,252.51 L396.07,252.53 L396.57,252.56 L397.07,252.58 L397.57,252.60 L398.07,252.62 L398.57,252.64 L399.06,252.66 L399.56,252.68 L400.06,252.70 L400.56,252.71 L401.06,252.73 L401.56,252.75 L402.06,252.76 L402.55,252.78 L403.05,252.79 L403.55,252.81 L404.05,252.82 L404.55,252.84 L405.05,252.85 L405.55,252.86 L406.05,252.87 L406.54,252.89 L407.04,252.90 L407.54,252.91 L408.04,252.92 L408.54,252.93 L409.04,252.94 L409.54,252.95 L410.03,252.96 L410.53,252.97 L411.03,252.98 L411.53,252.98 L412.03,252.99 L412.53,253.00 L413.03,253.01 L413.52,253.02 L414.02,253.03 L414.52,253.04 L415.02,253.05 L415.52,253.07 L416.02,253.08 L416.52,253.10 L417.01,253.12 L417.51,253.14 L418.01,253.16 L418.51,253.17 L419.01,253.19 L419.51,253.21 L420.01,253.22 L420.50,253.23 L421.00,253.24 L421.50,253.25 L422.00,253.25" fill="none" stroke="#7a4a30" stroke-width="1.4" stroke-linejoin="round" stroke-linecap="round"/>
<path d="M280.40,254.24 L280.90,251.96 L281.40,250.32 L281.90,249.10 L282.39,248.17 L282.89,247.41 L283.39,246.77 L283.89,246.20 L284.39,245.68 L284.89,245.18 L285.39,244.69 L285.88,244.20 L286.38,243.71 L286.88,243.22 L287.38,242.71 L287.88,242.19 L288.38,241.65 L288.88,241.09 L289.37,240.51 L289.87,239.91 L290.37,239.29 L290.87,238.65 L291.37,237.98 L291.87,237.29 L292.37,236.57 L292.86,235.83 L293.36,235.06 L293.86,234.26 L294.36,233.42 L294.86,232.55 L295.36,231.64 L295.86,230.69 L296.35,229.70 L296.85,228.66 L297.35,227.59 L297.85,226.48 L298.35,225.33 L298.85,224.14 L299.35,222.93 L299.85,221.68 L300.34,220.40 L300.84,219.09 L301.34,217.75 L301.84,216.38 L302.34,214.97 L302.84,213.53 L303.34,212.06 L303.83,210.56 L304.33,209.02 L304.83,207.47 L305.33,205.89 L305.83,204.30 L306.33,202.70 L306.83,201.10 L307.32,199.50 L307.82,197.91 L308.32,196.33 L308.82,194.77 L309.32,193.22 L309.82,191.69 L310.32,190.18 L310.81,188.70 L311.31,187.25 L311.81,185.83 L312.31,184.44 L312.81,183.09 L313.31,181.77 L313.81,180.48 L314.30,179.23 L314.80,178.02 L315.30,176.86 L315.80,175.74 L316.30,174.67 L316.80,173.65 L317.30,172.69 L317.79,171.79 L318.29,170.95 L318.79,170.18 L319.29,169.48 L319.79,168.86 L320.29,168.31 L320.79,167.84 L321.28,167.45 L321.78,167.15 L322.28,166.92 L322.78,166.78 L323.28,166.72 L323.78,166.75 L324.28,166.86 L324.77,167.05 L325.27,167.32 L325.77,167.67 L326.27,168.10 L326.77,168.61 L327.27,169.18 L327.77,169.83 L328.26,170.54 L328.76,171.31 L329.26,172.15 L329.76,173.04 L330.26,173.99 L330.76,174.99 L331.26,176.04 L331.75,177.12 L332.25,178.25 L332.75,179.41 L333.25,180.60 L333.75,181.82 L334.25,183.07 L334.75,184.33 L335.25,185.61 L335.74,186.91 L336.24,188.21 L336.74,189.52 L337.24,190.83 L337.74,192.14 L338.24,193.44 L338.74,194.74 L339.23,196.03 L339.73,197.32 L340.23,198.59 L340.73,199.84 L341.23,201.08 L341.73,202.29 L342.23,203.49 L342.72,204.65 L343.22,205.78 L343.72,206.88 L344.22,207.95 L344.72,208.98 L345.22,209.99 L345.72,210.96 L346.21,211.90 L346.71,212.83 L347.21,213.73 L347.71,214.62 L348.21,215.49 L348.71,216.35 L349.21,217.19 L349.70,218.02 L350.20,218.84 L350.70,219.65 L351.20,220.43 L351.70,221.20 L352.20,221.96 L352.70,222.70 L353.19,223.42 L353.69,224.13 L354.19,224.82 L354.69,225.50 L355.19,226.17 L355.69,226.83 L356.19,227.47 L356.68,228.10 L357.18,228.72 L357.68,229.32 L358.18,229.91 L358.68,230.48 L359.18,231.04 L359.68,231.57 L360.17,232.09 L360.67,232.59 L361.17,233.07 L361.67,233.54 L362.17,234.00 L362.67,234.45 L363.17,234.89 L363.66,235.32 L364.16,235.74 L364.66,236.16 L365.16,236.56 L365.66,236.96 L366.16,237.36 L366.66,237.74 L367.15,238.11 L367.65,238.47 L368.15,238.81 L368.65,239.14 L369.15,239.46 L369.65,239.76 L370.15,240.06 L370.65,240.34 L371.14,240.61 L371.64,240.88 L372.14,241.13 L372.64,241.38 L373.14,241.62 L373.64,241.86 L374.14,242.09 L374.63,242.33 L375.13,242.56 L375.63,242.79 L376.13,243.02 L376.63,243.25 L377.13,243.47 L377.63,243.68 L378.12,243.89 L378.62,244.08 L379.12,244.27 L379.62,244.44 L380.12,244.60 L380.62,244.75 L381.12,244.89 L381.61,245.02 L382.11,245.14 L382.61,245.25 L383.11,245.35 L383.61,245.45 L384.11,245.53 L384.61,245.62 L385.10,245.70 L385.60,245.78 L386.10,245.87 L386.60,245.96 L387.10,246.05 L387.60,246.16 L388.10,246.27 L388.59,246.38 L389.09,246.51 L389.59,246.63 L390.09,246.76 L390.59,246.89 L391.09,247.01 L391.59,247.14 L392.08,247.25 L392.58,247.36 L393.08,247.46 L393.58,247.55 L394.08,247.63 L394.58,247.71 L395.08,247.78 L395.57,247.83 L396.07,247.88 L396.57,247.93 L397.07,247.96 L397.57,247.99 L398.07,248.01 L398.57,248.02 L399.06,248.03 L399.56,248.04 L400.06,248.05 L400.56,248.06 L401.06,248.08 L401.56,248.10 L402.06,248.12 L402.55,248.15 L403.05,248.18 L403.55,248.21 L404.05,248.25 L404.55,248.28 L405.05,248.32 L405.55,248.35 L406.05,248.39 L406.54,248.42 L407.04,248.46 L407.54,248.49 L408.04,248.52 L408.54,248.55 L409.04,248.58 L409.54,248.61 L410.03,248.64 L410.53,248.66 L411.03,248.69 L411.53,248.72 L412.03,248.74 L412.53,248.76 L413.03,248.79 L413.52,248.81 L414.02,248.83 L414.52,248.85 L415.02,248.86 L415.52,248.88 L416.02,248.89 L416.52,248.90 L417.01,248.91 L417.51,248.92 L418.01,248.93 L418.51,248.94 L419.01,248.94 L419.51,248.95 L420.01,248.96 L420.50,248.97 L421.00,248.98 L421.50,248.99 L422.00,249.01" fill="none" stroke="#3626c2" stroke-width="1.5" stroke-linejoin="round" stroke-linecap="round"/>
<rect x="264.50" y="156.30" width="157.90" height="99.70" fill="none" stroke="#8c8c8c" stroke-width="0.9"/>
<text x="264.50" y="266.48" font-family='"Liberation Serif", serif' font-size="7.20" text-anchor="middle" fill="#222222" stroke="#222" stroke-width="0.05">Apr</text>
<text x="283.91" y="266.48" font-family='"Liberation Serif", serif' font-size="7.20" text-anchor="middle" fill="#222222" stroke="#222" stroke-width="0.05">May</text>
<text x="303.98" y="266.48" font-family='"Liberation Serif", serif' font-size="7.20" text-anchor="middle" fill="#222222" stroke="#222" stroke-width="0.05">Jun</text>
<text x="323.39" y="266.48" font-family='"Liberation Serif", serif' font-size="7.20" text-anchor="middle" fill="#222222" stroke="#222" stroke-width="0.05">Jul</text>
<text x="343.45" y="266.48" font-family='"Liberation Serif", serif' font-size="7.20" text-anchor="middle" fill="#222222" stroke="#222" stroke-width="0.05">Aug</text>
<text x="363.51" y="266.48" font-family='"Liberation Serif", serif' font-size="7.20" text-anchor="middle" fill="#222222" stroke="#222" stroke-width="0.05">Sep</text>
<text x="382.92" y="266.48" font-family='"Liberation Serif", serif' font-size="7.20" text-anchor="middle" fill="#222222" stroke="#222" stroke-width="0.05">Oct</text>
<text x="402.99" y="266.48" font-family='"Liberation Serif", serif' font-size="7.20" text-anchor="middle" fill="#222222" stroke="#222" stroke-width="0.05">Nov</text>
<text x="422.40" y="266.48" font-family='"Liberation Serif", serif' font-size="7.20" text-anchor="middle" fill="#222222" stroke="#222" stroke-width="0.05">Dec</text>
<text x="261.50" y="259.18" font-family='"Liberation Serif", serif' font-size="7.20" text-anchor="end" fill="#222222" stroke="#222" stroke-width="0.05">0</text>
<text x="261.50" y="234.25" font-family='"Liberation Serif", serif' font-size="7.20" text-anchor="end" fill="#222222" stroke="#222" stroke-width="0.05">0.005</text>
<text x="261.50" y="209.33" font-family='"Liberation Serif", serif' font-size="7.20" text-anchor="end" fill="#222222" stroke="#222" stroke-width="0.05">0.01</text>
<text x="261.50" y="184.40" font-family='"Liberation Serif", serif' font-size="7.20" text-anchor="end" fill="#222222" stroke="#222" stroke-width="0.05">0.015</text>
<text x="261.50" y="159.48" font-family='"Liberation Serif", serif' font-size="7.20" text-anchor="end" fill="#222222" stroke="#222" stroke-width="0.05">0.02</text>
<path d="M264.50,256.00v-1.6M264.50,156.30v1.6M283.91,256.00v-1.6M283.91,156.30v1.6M303.98,256.00v-1.6M303.98,156.30v1.6M323.39,256.00v-1.6M323.39,156.30v1.6M343.45,256.00v-1.6M343.45,156.30v1.6M363.51,256.00v-1.6M363.51,156.30v1.6M382.92,256.00v-1.6M382.92,156.30v1.6M402.99,256.00v-1.6M402.99,156.30v1.6M422.40,256.00v-1.6M422.40,156.30v1.6M264.50,256.00h1.6M422.40,256.00h-1.6M264.50,231.07h1.6M422.40,231.07h-1.6M264.50,206.15h1.6M422.40,206.15h-1.6M264.50,181.23h1.6M422.40,181.23h-1.6M264.50,156.30h1.6M422.40,156.30h-1.6" stroke="#8c8c8c" stroke-width="0.8" fill="none"/>
<text x="417.40" y="274.88" font-family='"Liberation Serif", serif' font-size="7.20" text-anchor="end" fill="#222222" stroke="#222" stroke-width="0.05">2021</text>
<text x="321.50" y="153.50" font-family='"Liberation Serif", serif' font-size="7.80" font-weight="bold" textLength="44.20" lengthAdjust="spacingAndGlyphs" fill="#111">DR.CONGO</text>
<path d="M58.00,381.68 L58.50,381.59 L59.00,381.49 L59.50,381.39 L60.00,381.30 L60.50,381.20 L61.00,381.10 L61.50,381.01 L62.00,380.91 L62.50,380.81 L63.00,380.71 L63.50,380.60 L64.00,380.49 L64.50,380.38 L65.00,380.26 L65.49,380.13 L65.99,379.99 L66.49,379.84 L66.99,379.69 L67.49,379.52 L67.99,379.34 L68.49,379.15 L68.99,378.95 L69.49,378.74 L69.99,378.51 L70.49,378.28 L70.99,378.04 L71.49,377.78 L71.99,377.51 L72.49,377.23 L72.99,376.94 L73.49,376.64 L73.99,376.33 L74.49,376.00 L74.99,375.67 L75.49,375.34 L75.99,375.00 L76.49,374.65 L76.99,374.30 L77.49,373.94 L77.99,373.58 L78.49,373.22 L78.99,372.84 L79.49,372.46 L79.98,372.08 L80.48,371.68 L80.98,371.28 L81.48,370.87 L81.98,370.45 L82.48,370.03 L82.98,369.60 L83.48,369.16 L83.98,368.71 L84.48,368.25 L84.98,367.79 L85.48,367.31 L85.98,366.83 L86.48,366.34 L86.98,365.84 L87.48,365.33 L87.98,364.81 L88.48,364.29 L88.98,363.76 L89.48,363.23 L89.98,362.69 L90.48,362.15 L90.98,361.61 L91.48,361.06 L91.98,360.52 L92.48,359.97 L92.98,359.42 L93.48,358.87 L93.98,358.32 L94.47,357.77 L94.97,357.22 L95.47,356.68 L95.97,356.14 L96.47,355.60 L96.97,355.07 L97.47,354.54 L97.97,354.01 L98.47,353.47 L98.97,352.93 L99.47,352.38 L99.97,351.83 L100.47,351.27 L100.97,350.71 L101.47,350.15 L101.97,349.58 L102.47,349.00 L102.97,348.43 L103.47,347.86 L103.97,347.29 L104.47,346.73 L104.97,346.17 L105.47,345.63 L105.97,345.11 L106.47,344.60 L106.97,344.10 L107.47,343.63 L107.97,343.18 L108.47,342.74 L108.96,342.33 L109.46,341.93 L109.96,341.56 L110.46,341.20 L110.96,340.86 L111.46,340.54 L111.96,340.23 L112.46,339.94 L112.96,339.66 L113.46,339.39 L113.96,339.14 L114.46,338.90 L114.96,338.68 L115.46,338.48 L115.96,338.29 L116.46,338.11 L116.96,337.96 L117.46,337.82 L117.96,337.70 L118.46,337.60 L118.96,337.51 L119.46,337.44 L119.96,337.39 L120.46,337.36 L120.96,337.35 L121.46,337.35 L121.96,337.37 L122.46,337.41 L122.96,337.47 L123.45,337.55 L123.95,337.65 L124.45,337.78 L124.95,337.92 L125.45,338.08 L125.95,338.27 L126.45,338.47 L126.95,338.70 L127.45,338.96 L127.95,339.23 L128.45,339.52 L128.95,339.83 L129.45,340.16 L129.95,340.50 L130.45,340.85 L130.95,341.22 L131.45,341.60 L131.95,341.99 L132.45,342.39 L132.95,342.79 L133.45,343.21 L133.95,343.63 L134.45,344.05 L134.95,344.48 L135.45,344.91 L135.95,345.35 L136.45,345.79 L136.95,346.24 L137.45,346.70 L137.94,347.16 L138.44,347.64 L138.94,348.13 L139.44,348.62 L139.94,349.12 L140.44,349.63 L140.94,350.14 L141.44,350.66 L141.94,351.18 L142.44,351.71 L142.94,352.24 L143.44,352.77 L143.94,353.31 L144.44,353.85 L144.94,354.40 L145.44,354.94 L145.94,355.50 L146.44,356.05 L146.94,356.60 L147.44,357.14 L147.94,357.68 L148.44,358.20 L148.94,358.72 L149.44,359.22 L149.94,359.71 L150.44,360.19 L150.94,360.66 L151.44,361.12 L151.94,361.57 L152.43,362.01 L152.93,362.44 L153.43,362.85 L153.93,363.26 L154.43,363.65 L154.93,364.04 L155.43,364.41 L155.93,364.78 L156.43,365.14 L156.93,365.49 L157.43,365.84 L157.93,366.18 L158.43,366.52 L158.93,366.86 L159.43,367.20 L159.93,367.54 L160.43,367.86 L160.93,368.18 L161.43,368.50 L161.93,368.80 L162.43,369.10 L162.93,369.39 L163.43,369.67 L163.93,369.94 L164.43,370.21 L164.93,370.46 L165.43,370.71 L165.93,370.95 L166.43,371.18 L166.92,371.40 L167.42,371.61 L167.92,371.82 L168.42,372.02 L168.92,372.22 L169.42,372.40 L169.92,372.59 L170.42,372.77 L170.92,372.94 L171.42,373.10 L171.92,373.26 L172.42,373.41 L172.92,373.55 L173.42,373.68 L173.92,373.81 L174.42,373.93 L174.92,374.04 L175.42,374.15 L175.92,374.26 L176.42,374.37 L176.92,374.48 L177.42,374.59 L177.92,374.70 L178.42,374.81 L178.92,374.92 L179.42,375.03 L179.92,375.14 L180.42,375.25 L180.92,375.36 L181.41,375.48 L181.91,375.59 L182.41,375.71 L182.91,375.82 L183.41,375.93 L183.91,376.04 L184.41,376.14 L184.91,376.24 L185.41,376.33 L185.91,376.42 L186.41,376.50 L186.91,376.57 L187.41,376.64 L187.91,376.71 L188.41,376.77 L188.91,376.83 L189.41,376.88 L189.91,376.94 L190.41,376.99 L190.91,377.04 L191.41,377.08 L191.91,377.13 L192.41,377.18 L192.91,377.22 L193.41,377.26 L193.91,377.30 L194.41,377.34 L194.91,377.38 L195.41,377.42 L195.90,377.46 L196.40,377.50 L196.90,377.54 L197.40,377.58 L197.90,377.63 L198.40,377.67 L198.90,377.71 L199.40,377.75 L199.90,377.79 L200.40,377.82 L200.90,377.85 L201.40,377.88 L201.90,377.91 L202.40,377.94 L202.90,377.96" fill="none" stroke="#7a4a30" stroke-width="1.4" stroke-linejoin="round" stroke-linecap="round"/>
<path d="M58.00,379.28 L58.50,379.09 L59.00,378.90 L59.50,378.70 L60.00,378.49 L60.50,378.28 L61.00,378.05 L61.50,377.82 L62.00,377.58 L62.50,377.34 L63.00,377.09 L63.50,376.84 L64.00,376.58 L64.50,376.32 L65.00,376.06 L65.49,375.79 L65.99,375.52 L66.49,375.24 L66.99,374.95 L67.49,374.66 L67.99,374.36 L68.49,374.05 L68.99,373.73 L69.49,373.41 L69.99,373.07 L70.49,372.71 L70.99,372.35 L71.49,371.97 L71.99,371.58 L72.49,371.17 L72.99,370.76 L73.49,370.33 L73.99,369.88 L74.49,369.43 L74.99,368.96 L75.49,368.48 L75.99,367.98 L76.49,367.47 L76.99,366.95 L77.49,366.42 L77.99,365.87 L78.49,365.31 L78.99,364.73 L79.49,364.14 L79.98,363.55 L80.48,362.94 L80.98,362.31 L81.48,361.68 L81.98,361.03 L82.48,360.36 L82.98,359.68 L83.48,358.98 L83.98,358.27 L84.48,357.54 L84.98,356.79 L85.48,356.02 L85.98,355.24 L86.48,354.44 L86.98,353.62 L87.48,352.78 L87.98,351.92 L88.48,351.05 L88.98,350.15 L89.48,349.24 L89.98,348.32 L90.48,347.38 L90.98,346.44 L91.48,345.49 L91.98,344.53 L92.48,343.56 L92.98,342.59 L93.48,341.62 L93.98,340.64 L94.47,339.65 L94.97,338.66 L95.47,337.67 L95.97,336.68 L96.47,335.68 L96.97,334.67 L97.47,333.67 L97.97,332.66 L98.47,331.64 L98.97,330.63 L99.47,329.61 L99.97,328.60 L100.47,327.59 L100.97,326.58 L101.47,325.58 L101.97,324.59 L102.47,323.61 L102.97,322.64 L103.47,321.69 L103.97,320.74 L104.47,319.81 L104.97,318.89 L105.47,317.99 L105.97,317.10 L106.47,316.22 L106.97,315.35 L107.47,314.49 L107.97,313.65 L108.47,312.83 L108.96,312.02 L109.46,311.24 L109.96,310.48 L110.46,309.75 L110.96,309.05 L111.46,308.38 L111.96,307.75 L112.46,307.14 L112.96,306.58 L113.46,306.05 L113.96,305.55 L114.46,305.09 L114.96,304.66 L115.46,304.27 L115.96,303.92 L116.46,303.60 L116.96,303.33 L117.46,303.09 L117.96,302.90 L118.46,302.75 L118.96,302.64 L119.46,302.58 L119.96,302.56 L120.46,302.58 L120.96,302.63 L121.46,302.72 L121.96,302.85 L122.46,303.01 L122.96,303.20 L123.45,303.43 L123.95,303.69 L124.45,303.97 L124.95,304.29 L125.45,304.64 L125.95,305.01 L126.45,305.40 L126.95,305.83 L127.45,306.27 L127.95,306.74 L128.45,307.24 L128.95,307.76 L129.45,308.31 L129.95,308.87 L130.45,309.47 L130.95,310.08 L131.45,310.71 L131.95,311.37 L132.45,312.05 L132.95,312.74 L133.45,313.45 L133.95,314.18 L134.45,314.91 L134.95,315.65 L135.45,316.39 L135.95,317.14 L136.45,317.88 L136.95,318.63 L137.45,319.38 L137.94,320.13 L138.44,320.88 L138.94,321.64 L139.44,322.40 L139.94,323.16 L140.44,323.93 L140.94,324.70 L141.44,325.47 L141.94,326.24 L142.44,327.01 L142.94,327.77 L143.44,328.51 L143.94,329.25 L144.44,329.97 L144.94,330.67 L145.44,331.36 L145.94,332.03 L146.44,332.69 L146.94,333.34 L147.44,333.98 L147.94,334.62 L148.44,335.26 L148.94,335.90 L149.44,336.55 L149.94,337.21 L150.44,337.88 L150.94,338.55 L151.44,339.24 L151.94,339.93 L152.43,340.63 L152.93,341.33 L153.43,342.03 L153.93,342.71 L154.43,343.39 L154.93,344.04 L155.43,344.67 L155.93,345.29 L156.43,345.89 L156.93,346.48 L157.43,347.05 L157.93,347.62 L158.43,348.17 L158.93,348.72 L159.43,349.25 L159.93,349.78 L160.43,350.30 L160.93,350.81 L161.43,351.31 L161.93,351.81 L162.43,352.30 L162.93,352.78 L163.43,353.26 L163.93,353.73 L164.43,354.19 L164.93,354.65 L165.43,355.10 L165.93,355.55 L166.43,355.98 L166.92,356.41 L167.42,356.83 L167.92,357.25 L168.42,357.65 L168.92,358.05 L169.42,358.43 L169.92,358.82 L170.42,359.19 L170.92,359.55 L171.42,359.91 L171.92,360.26 L172.42,360.60 L172.92,360.94 L173.42,361.27 L173.92,361.59 L174.42,361.90 L174.92,362.21 L175.42,362.52 L175.92,362.82 L176.42,363.12 L176.92,363.42 L177.42,363.71 L177.92,364.01 L178.42,364.30 L178.92,364.59 L179.42,364.87 L179.92,365.16 L180.42,365.44 L180.92,365.71 L181.41,365.99 L181.91,366.25 L182.41,366.51 L182.91,366.76 L183.41,367.01 L183.91,367.25 L184.41,367.48 L184.91,367.71 L185.41,367.93 L185.91,368.14 L186.41,368.34 L186.91,368.54 L187.41,368.73 L187.91,368.92 L188.41,369.10 L188.91,369.28 L189.41,369.45 L189.91,369.62 L190.41,369.79 L190.91,369.95 L191.41,370.12 L191.91,370.28 L192.41,370.44 L192.91,370.61 L193.41,370.77 L193.91,370.92 L194.41,371.08 L194.91,371.23 L195.41,371.38 L195.90,371.53 L196.40,371.67 L196.90,371.80 L197.40,371.93 L197.90,372.06 L198.40,372.19 L198.90,372.31 L199.40,372.43 L199.90,372.55 L200.40,372.66 L200.90,372.78 L201.40,372.90 L201.90,373.01 L202.40,373.13 L202.90,373.25" fill="none" stroke="#3626c2" stroke-width="1.5" stroke-linejoin="round" stroke-linecap="round"/>
<rect x="49.30" y="286.60" width="155.00" height="97.40" fill="none" stroke="#8c8c8c" stroke-width="0.9"/>
<text x="49.30" y="392.81" font-family='"Liberation Sans", sans-serif' font-size="6.40" text-anchor="middle" fill="#222222" stroke="#222" stroke-width="0.05">Apr</text>
<text x="66.21" y="392.81" font-family='"Liberation Sans", sans-serif' font-size="6.40" text-anchor="middle" fill="#222222" stroke="#222" stroke-width="0.05">May</text>
<text x="83.68" y="392.81" font-family='"Liberation Sans", sans-serif' font-size="6.40" text-anchor="middle" fill="#222222" stroke="#222" stroke-width="0.05">Jun</text>
<text x="100.59" y="392.81" font-family='"Liberation Sans", sans-serif' font-size="6.40" text-anchor="middle" fill="#222222" stroke="#222" stroke-width="0.05">Jul</text>
<text x="118.06" y="392.81" font-family='"Liberation Sans", sans-serif' font-size="6.40" text-anchor="middle" fill="#222222" stroke="#222" stroke-width="0.05">Aug</text>
<text x="135.54" y="392.81" font-family='"Liberation Sans", sans-serif' font-size="6.40" text-anchor="middle" fill="#222222" stroke="#222" stroke-width="0.05">Sep</text>
<text x="152.45" y="392.81" font-family='"Liberation Sans", sans-serif' font-size="6.40" text-anchor="middle" fill="#222222" stroke="#222" stroke-width="0.05">Oct</text>
<text x="169.92" y="392.81" font-family='"Liberation Sans", sans-serif' font-size="6.40" text-anchor="middle" fill="#222222" stroke="#222" stroke-width="0.05">Nov</text>
<text x="186.83" y="392.81" font-family='"Liberation Sans", sans-serif' font-size="6.40" text-anchor="middle" fill="#222222" stroke="#222" stroke-width="0.05">Dec</text>
<text x="204.30" y="392.81" font-family='"Liberation Sans", sans-serif' font-size="6.40" text-anchor="middle" fill="#222222" stroke="#222" stroke-width="0.05">Jan</text>
<text x="47.00" y="386.11" font-family='"Liberation Sans", sans-serif' font-size="6.40" text-anchor="end" fill="#222222" stroke="#222" stroke-width="0.05">0</text>
<text x="47.00" y="369.88" font-family='"Liberation Sans", sans-serif' font-size="6.40" text-anchor="end" fill="#222222" stroke="#222" stroke-width="0.05">0.002</text>
<text x="47.00" y="353.65" font-family='"Liberation Sans", sans-serif' font-size="6.40" text-anchor="end" fill="#222222" stroke="#222" stroke-width="0.05">0.004</text>
<text x="47.00" y="337.41" font-family='"Liberation Sans", sans-serif' font-size="6.40" text-anchor="end" fill="#222222" stroke="#222" stroke-width="0.05">0.006</text>
<text x="47.00" y="321.18" font-family='"Liberation Sans", sans-serif' font-size="6.40" text-anchor="end" fill="#222222" stroke="#222" stroke-width="0.05">0.008</text>
<text x="47.00" y="304.95" font-family='"Liberation Sans", sans-serif' font-size="6.40" text-anchor="end" fill="#222222" stroke="#222" stroke-width="0.05">0.01</text>
<text x="47.00" y="288.71" font-family='"Liberation Sans", sans-serif' font-size="6.40" text-anchor="end" fill="#222222" stroke="#222" stroke-width="0.05">0.012</text>
<path d="M49.30,384.00v-1.6M49.30,286.60v1.6M66.21,384.00v-1.6M66.21,286.60v1.6M83.68,384.00v-1.6M83.68,286.60v1.6M100.59,384.00v-1.6M100.59,286.60v1.6M118.06,384.00v-1.6M118.06,286.60v1.6M135.54,384.00v-1.6M135.54,286.60v1.6M152.45,384.00v-1.6M152.45,286.60v1.6M169.92,384.00v-1.6M169.92,286.60v1.6M186.83,384.00v-1.6M186.83,286.60v1.6M204.30,384.00v-1.6M204.30,286.60v1.6M49.30,384.00h1.6M204.30,384.00h-1.6M49.30,367.77h1.6M204.30,367.77h-1.6M49.30,351.53h1.6M204.30,351.53h-1.6M49.30,335.30h1.6M204.30,335.30h-1.6M49.30,319.07h1.6M204.30,319.07h-1.6M49.30,302.83h1.6M204.30,302.83h-1.6M49.30,286.60h1.6M204.30,286.60h-1.6" stroke="#8c8c8c" stroke-width="0.8" fill="none"/>
<text x="200.30" y="400.61" font-family='"Liberation Sans", sans-serif' font-size="6.40" text-anchor="end" fill="#222222" stroke="#222" stroke-width="0.05">2021</text>
<text x="114.60" y="282.90" font-family='"Liberation Sans", sans-serif' font-size="7.60" font-weight="bold" textLength="25.10" lengthAdjust="spacingAndGlyphs" fill="#111">LIBYA</text>
<text transform="translate(16.50,338.70) rotate(-90)" x="0" y="0" font-family='"Liberation Sans", sans-serif' font-size="6.20" text-anchor="middle" textLength="46.60" lengthAdjust="spacingAndGlyphs" fill="#222222" stroke="#222" stroke-width="0.05">Force of infection</text>
<text transform="translate(24.50,333.75) rotate(-90)" x="0" y="0" font-family='"Liberation Sans", sans-serif' font-size="6.20" text-anchor="middle" textLength="74.50" lengthAdjust="spacingAndGlyphs" fill="#222222" stroke="#222" stroke-width="0.05">(vaccinated, unvaccinated)</text>
<path d="M288.20,382.29 L288.70,381.91 L289.20,381.51 L289.70,381.08 L290.20,380.63 L290.70,380.15 L291.20,379.64 L291.70,379.12 L292.20,378.57 L292.70,378.01 L293.20,377.44 L293.70,376.85 L294.20,376.26 L294.69,375.65 L295.19,375.04 L295.69,374.41 L296.19,373.77 L296.69,373.11 L297.19,372.43 L297.69,371.73 L298.19,371.01 L298.69,370.26 L299.19,369.50 L299.69,368.70 L300.19,367.89 L300.69,367.05 L301.19,366.19 L301.69,365.32 L302.19,364.43 L302.69,363.53 L303.19,362.61 L303.69,361.69 L304.19,360.75 L304.69,359.80 L305.19,358.84 L305.69,357.86 L306.19,356.88 L306.68,355.88 L307.18,354.87 L307.68,353.84 L308.18,352.79 L308.68,351.73 L309.18,350.64 L309.68,349.54 L310.18,348.42 L310.68,347.28 L311.18,346.13 L311.68,344.96 L312.18,343.79 L312.68,342.60 L313.18,341.41 L313.68,340.21 L314.18,339.01 L314.68,337.81 L315.18,336.61 L315.68,335.41 L316.18,334.21 L316.68,333.02 L317.18,331.84 L317.68,330.67 L318.18,329.51 L318.68,328.35 L319.17,327.21 L319.67,326.09 L320.17,324.97 L320.67,323.86 L321.17,322.77 L321.67,321.68 L322.17,320.59 L322.67,319.51 L323.17,318.43 L323.67,317.34 L324.17,316.25 L324.67,315.15 L325.17,314.05 L325.67,312.95 L326.17,311.87 L326.67,310.81 L327.17,309.79 L327.67,308.81 L328.17,307.89 L328.67,307.02 L329.17,306.22 L329.67,305.48 L330.17,304.79 L330.67,304.17 L331.16,303.61 L331.66,303.09 L332.16,302.63 L332.66,302.21 L333.16,301.83 L333.66,301.48 L334.16,301.17 L334.66,300.89 L335.16,300.64 L335.66,300.42 L336.16,300.24 L336.66,300.10 L337.16,299.99 L337.66,299.92 L338.16,299.89 L338.66,299.90 L339.16,299.93 L339.66,299.99 L340.16,300.08 L340.66,300.20 L341.16,300.34 L341.66,300.52 L342.16,300.74 L342.66,300.98 L343.15,301.26 L343.65,301.57 L344.15,301.91 L344.65,302.29 L345.15,302.70 L345.65,303.14 L346.15,303.61 L346.65,304.11 L347.15,304.64 L347.65,305.19 L348.15,305.77 L348.65,306.38 L349.15,307.01 L349.65,307.66 L350.15,308.33 L350.65,309.03 L351.15,309.74 L351.65,310.46 L352.15,311.19 L352.65,311.94 L353.15,312.69 L353.65,313.45 L354.15,314.22 L354.65,314.99 L355.15,315.77 L355.64,316.55 L356.14,317.34 L356.64,318.14 L357.14,318.94 L357.64,319.75 L358.14,320.57 L358.64,321.39 L359.14,322.21 L359.64,323.04 L360.14,323.86 L360.64,324.68 L361.14,325.49 L361.64,326.30 L362.14,327.10 L362.64,327.90 L363.14,328.68 L363.64,329.46 L364.14,330.23 L364.64,331.00 L365.14,331.77 L365.64,332.54 L366.14,333.30 L366.64,334.07 L367.14,334.83 L367.63,335.60 L368.13,336.36 L368.63,337.12 L369.13,337.87 L369.63,338.62 L370.13,339.35 L370.63,340.08 L371.13,340.80 L371.63,341.51 L372.13,342.22 L372.63,342.92 L373.13,343.62 L373.63,344.31 L374.13,345.01 L374.63,345.69 L375.13,346.38 L375.63,347.06 L376.13,347.75 L376.63,348.42 L377.13,349.10 L377.63,349.77 L378.13,350.44 L378.63,351.10 L379.13,351.75 L379.62,352.39 L380.12,353.01 L380.62,353.62 L381.12,354.22 L381.62,354.80 L382.12,355.38 L382.62,355.94 L383.12,356.49 L383.62,357.04 L384.12,357.57 L384.62,358.10 L385.12,358.62 L385.62,359.13 L386.12,359.64 L386.62,360.14 L387.12,360.63 L387.62,361.12 L388.12,361.60 L388.62,362.08 L389.12,362.56 L389.62,363.03 L390.12,363.50 L390.62,363.96 L391.12,364.41 L391.62,364.86 L392.11,365.29 L392.61,365.72 L393.11,366.14 L393.61,366.55 L394.11,366.95 L394.61,367.34 L395.11,367.72 L395.61,368.09 L396.11,368.45 L396.61,368.80 L397.11,369.14 L397.61,369.48 L398.11,369.80 L398.61,370.12 L399.11,370.43 L399.61,370.74 L400.11,371.04 L400.61,371.33 L401.11,371.62 L401.61,371.91 L402.11,372.20 L402.61,372.48 L403.11,372.77 L403.61,373.05 L404.10,373.33 L404.60,373.60 L405.10,373.87 L405.60,374.14 L406.10,374.40 L406.60,374.66 L407.10,374.92 L407.60,375.17 L408.10,375.41 L408.60,375.65 L409.10,375.89 L409.60,376.12 L410.10,376.35" fill="none" stroke="#7a4a30" stroke-width="1.4" stroke-linejoin="round" stroke-linecap="round"/>
<path d="M288.20,382.41 L288.70,382.04 L289.20,381.65 L289.70,381.23 L290.20,380.78 L290.70,380.31 L291.20,379.82 L291.70,379.30 L292.20,378.77 L292.70,378.22 L293.20,377.65 L293.70,377.08 L294.20,376.49 L294.69,375.90 L295.19,375.30 L295.69,374.68 L296.19,374.05 L296.69,373.40 L297.19,372.74 L297.69,372.05 L298.19,371.34 L298.69,370.61 L299.19,369.86 L299.69,369.08 L300.19,368.28 L300.69,367.45 L301.19,366.61 L301.69,365.75 L302.19,364.88 L302.69,364.00 L303.19,363.10 L303.69,362.19 L304.19,361.26 L304.69,360.33 L305.19,359.39 L305.69,358.43 L306.19,357.47 L306.68,356.49 L307.18,355.49 L307.68,354.48 L308.18,353.45 L308.68,352.41 L309.18,351.34 L309.68,350.26 L310.18,349.15 L310.68,348.04 L311.18,346.90 L311.68,345.76 L312.18,344.61 L312.68,343.44 L313.18,342.27 L313.68,341.10 L314.18,339.92 L314.68,338.74 L315.18,337.56 L315.68,336.38 L316.18,335.20 L316.68,334.04 L317.18,332.88 L317.68,331.72 L318.18,330.58 L318.68,329.45 L319.17,328.33 L319.67,327.22 L320.17,326.13 L320.67,325.04 L321.17,323.96 L321.67,322.89 L322.17,321.83 L322.67,320.76 L323.17,319.70 L323.67,318.63 L324.17,317.56 L324.67,316.48 L325.17,315.40 L325.67,314.33 L326.17,313.26 L326.67,312.22 L327.17,311.22 L327.67,310.26 L328.17,309.35 L328.67,308.50 L329.17,307.71 L329.67,306.98 L330.17,306.31 L330.67,305.70 L331.16,305.14 L331.66,304.64 L332.16,304.18 L332.66,303.77 L333.16,303.40 L333.66,303.06 L334.16,302.75 L334.66,302.47 L335.16,302.23 L335.66,302.02 L336.16,301.84 L336.66,301.70 L337.16,301.60 L337.66,301.53 L338.16,301.50 L338.66,301.50 L339.16,301.53 L339.66,301.59 L340.16,301.68 L340.66,301.80 L341.16,301.94 L341.66,302.12 L342.16,302.33 L342.66,302.57 L343.15,302.84 L343.65,303.15 L344.15,303.48 L344.65,303.86 L345.15,304.26 L345.65,304.69 L346.15,305.15 L346.65,305.64 L347.15,306.16 L347.65,306.70 L348.15,307.27 L348.65,307.87 L349.15,308.48 L349.65,309.13 L350.15,309.79 L350.65,310.47 L351.15,311.16 L351.65,311.88 L352.15,312.60 L352.65,313.33 L353.15,314.07 L353.65,314.81 L354.15,315.57 L354.65,316.32 L355.15,317.09 L355.64,317.86 L356.14,318.63 L356.64,319.42 L357.14,320.21 L357.64,321.00 L358.14,321.80 L358.64,322.61 L359.14,323.42 L359.64,324.23 L360.14,325.03 L360.64,325.84 L361.14,326.64 L361.64,327.43 L362.14,328.22 L362.64,329.00 L363.14,329.77 L363.64,330.54 L364.14,331.30 L364.64,332.05 L365.14,332.80 L365.64,333.56 L366.14,334.31 L366.64,335.06 L367.14,335.81 L367.63,336.56 L368.13,337.31 L368.63,338.06 L369.13,338.80 L369.63,339.53 L370.13,340.25 L370.63,340.97 L371.13,341.67 L371.63,342.38 L372.13,343.07 L372.63,343.76 L373.13,344.44 L373.63,345.12 L374.13,345.80 L374.63,346.48 L375.13,347.15 L375.63,347.83 L376.13,348.49 L376.63,349.16 L377.13,349.83 L377.63,350.49 L378.13,351.14 L378.63,351.79 L379.13,352.43 L379.62,353.05 L380.12,353.67 L380.62,354.27 L381.12,354.85 L381.62,355.43 L382.12,355.99 L382.62,356.54 L383.12,357.08 L383.62,357.62 L384.12,358.14 L384.62,358.66 L385.12,359.17 L385.62,359.68 L386.12,360.17 L386.62,360.67 L387.12,361.15 L387.62,361.63 L388.12,362.11 L388.62,362.58 L389.12,363.04 L389.62,363.50 L390.12,363.96 L390.62,364.42 L391.12,364.86 L391.62,365.30 L392.11,365.73 L392.61,366.15 L393.11,366.56 L393.61,366.96 L394.11,367.35 L394.61,367.74 L395.11,368.11 L395.61,368.47 L396.11,368.83 L396.61,369.17 L397.11,369.51 L397.61,369.84 L398.11,370.16 L398.61,370.47 L399.11,370.78 L399.61,371.08 L400.11,371.37 L400.61,371.66 L401.11,371.94 L401.61,372.23 L402.11,372.51 L402.61,372.79 L403.11,373.07 L403.61,373.34 L404.10,373.62 L404.60,373.89 L405.10,374.15 L405.60,374.42 L406.10,374.68 L406.60,374.93 L407.10,375.18 L407.60,375.42 L408.10,375.67 L408.60,375.90 L409.10,376.13 L409.60,376.36 L410.10,376.58" fill="none" stroke="#3626c2" stroke-width="1.5" stroke-linejoin="round" stroke-linecap="round"/>
<rect x="262.50" y="287.00" width="158.80" height="102.10" fill="none" stroke="#8c8c8c" stroke-width="0.9"/>
<text x="262.50" y="397.91" font-family='"Liberation Sans", sans-serif' font-size="6.40" text-anchor="middle" fill="#222222" stroke="#222" stroke-width="0.05">May</text>
<text x="289.25" y="397.91" font-family='"Liberation Sans", sans-serif' font-size="6.40" text-anchor="middle" fill="#222222" stroke="#222" stroke-width="0.05">Jun</text>
<text x="315.15" y="397.91" font-family='"Liberation Sans", sans-serif' font-size="6.40" text-anchor="middle" fill="#222222" stroke="#222" stroke-width="0.05">Jul</text>
<text x="341.90" y="397.91" font-family='"Liberation Sans", sans-serif' font-size="6.40" text-anchor="middle" fill="#222222" stroke="#222" stroke-width="0.05">Aug</text>
<text x="368.65" y="397.91" font-family='"Liberation Sans", sans-serif' font-size="6.40" text-anchor="middle" fill="#222222" stroke="#222" stroke-width="0.05">Sep</text>
<text x="394.55" y="397.91" font-family='"Liberation Sans", sans-serif' font-size="6.40" text-anchor="middle" fill="#222222" stroke="#222" stroke-width="0.05">Oct</text>
<text x="421.30" y="397.91" font-family='"Liberation Sans", sans-serif' font-size="6.40" text-anchor="middle" fill="#222222" stroke="#222" stroke-width="0.05">Nov</text>
<text x="260.20" y="377.41" font-family='"Liberation Sans", sans-serif' font-size="6.40" text-anchor="end" fill="#222222" stroke="#222" stroke-width="0.05">0.005</text>
<text x="260.20" y="354.31" font-family='"Liberation Sans", sans-serif' font-size="6.40" text-anchor="end" fill="#222222" stroke="#222" stroke-width="0.05">0.01</text>
<text x="260.20" y="331.21" font-family='"Liberation Sans", sans-serif' font-size="6.40" text-anchor="end" fill="#222222" stroke="#222" stroke-width="0.05">0.015</text>
<text x="260.20" y="308.11" font-family='"Liberation Sans", sans-serif' font-size="6.40" text-anchor="end" fill="#222222" stroke="#222" stroke-width="0.05">0.02</text>
<path d="M262.50,389.10v-1.6M262.50,287.00v1.6M289.25,389.10v-1.6M289.25,287.00v1.6M315.15,389.10v-1.6M315.15,287.00v1.6M341.90,389.10v-1.6M341.90,287.00v1.6M368.65,389.10v-1.6M368.65,287.00v1.6M394.55,389.10v-1.6M394.55,287.00v1.6M421.30,389.10v-1.6M421.30,287.00v1.6M262.50,375.30h1.6M421.30,375.30h-1.6M262.50,352.20h1.6M421.30,352.20h-1.6M262.50,329.10h1.6M421.30,329.10h-1.6M262.50,306.00h1.6M421.30,306.00h-1.6" stroke="#8c8c8c" stroke-width="0.8" fill="none"/>
<text x="417.30" y="405.71" font-family='"Liberation Sans", sans-serif' font-size="6.40" text-anchor="end" fill="#222222" stroke="#222" stroke-width="0.05">2021</text>
<text x="330.40" y="282.90" font-family='"Liberation Sans", sans-serif' font-size="7.60" font-weight="bold" textLength="28.00" lengthAdjust="spacingAndGlyphs" fill="#111">KENYA</text>
<path d="M60.50,520.81 L61.00,520.79 L61.50,520.78 L62.00,520.77 L62.50,520.77 L63.00,520.76 L63.50,520.76 L64.00,520.76 L64.50,520.77 L65.00,520.77 L65.50,520.77 L66.00,520.76 L66.50,520.76 L67.00,520.74 L67.50,520.73 L67.99,520.70 L68.49,520.67 L68.99,520.64 L69.49,520.60 L69.99,520.55 L70.49,520.50 L70.99,520.45 L71.49,520.40 L71.99,520.34 L72.49,520.28 L72.99,520.22 L73.49,520.16 L73.99,520.10 L74.49,520.03 L74.99,519.97 L75.49,519.90 L75.99,519.83 L76.49,519.75 L76.99,519.68 L77.49,519.60 L77.99,519.52 L78.49,519.44 L78.99,519.35 L79.49,519.26 L79.99,519.17 L80.49,519.07 L80.99,518.97 L81.49,518.86 L81.98,518.75 L82.48,518.63 L82.98,518.51 L83.48,518.38 L83.98,518.24 L84.48,518.10 L84.98,517.95 L85.48,517.80 L85.98,517.64 L86.48,517.48 L86.98,517.30 L87.48,517.12 L87.98,516.94 L88.48,516.75 L88.98,516.55 L89.48,516.34 L89.98,516.12 L90.48,515.90 L90.98,515.67 L91.48,515.43 L91.98,515.19 L92.48,514.94 L92.98,514.68 L93.48,514.41 L93.98,514.14 L94.48,513.87 L94.98,513.59 L95.48,513.31 L95.97,513.02 L96.47,512.72 L96.97,512.41 L97.47,512.10 L97.97,511.76 L98.47,511.42 L98.97,511.06 L99.47,510.68 L99.97,510.30 L100.47,509.89 L100.97,509.47 L101.47,509.04 L101.97,508.59 L102.47,508.12 L102.97,507.64 L103.47,507.14 L103.97,506.62 L104.47,506.08 L104.97,505.52 L105.47,504.96 L105.97,504.39 L106.47,503.81 L106.97,503.24 L107.47,502.67 L107.97,502.10 L108.47,501.54 L108.97,500.98 L109.47,500.43 L109.97,499.89 L110.46,499.35 L110.96,498.82 L111.46,498.29 L111.96,497.78 L112.46,497.26 L112.96,496.76 L113.46,496.25 L113.96,495.75 L114.46,495.24 L114.96,494.72 L115.46,494.21 L115.96,493.69 L116.46,493.16 L116.96,492.64 L117.46,492.12 L117.96,491.60 L118.46,491.08 L118.96,490.57 L119.46,490.08 L119.96,489.59 L120.46,489.13 L120.96,488.68 L121.46,488.25 L121.96,487.84 L122.46,487.45 L122.96,487.09 L123.46,486.75 L123.96,486.43 L124.45,486.14 L124.95,485.87 L125.45,485.64 L125.95,485.43 L126.45,485.24 L126.95,485.09 L127.45,484.96 L127.95,484.85 L128.45,484.77 L128.95,484.71 L129.45,484.68 L129.95,484.66 L130.45,484.67 L130.95,484.70 L131.45,484.73 L131.95,484.79 L132.45,484.85 L132.95,484.93 L133.45,485.03 L133.95,485.13 L134.45,485.25 L134.95,485.38 L135.45,485.52 L135.95,485.67 L136.45,485.84 L136.95,486.02 L137.45,486.22 L137.95,486.44 L138.45,486.68 L138.94,486.93 L139.44,487.20 L139.94,487.49 L140.44,487.80 L140.94,488.12 L141.44,488.46 L141.94,488.81 L142.44,489.18 L142.94,489.56 L143.44,489.95 L143.94,490.36 L144.44,490.78 L144.94,491.20 L145.44,491.63 L145.94,492.07 L146.44,492.51 L146.94,492.95 L147.44,493.39 L147.94,493.83 L148.44,494.27 L148.94,494.70 L149.44,495.14 L149.94,495.57 L150.44,496.00 L150.94,496.44 L151.44,496.87 L151.94,497.30 L152.44,497.73 L152.93,498.15 L153.43,498.58 L153.93,499.00 L154.43,499.42 L154.93,499.84 L155.43,500.26 L155.93,500.68 L156.43,501.09 L156.93,501.49 L157.43,501.90 L157.93,502.30 L158.43,502.69 L158.93,503.08 L159.43,503.47 L159.93,503.85 L160.43,504.22 L160.93,504.59 L161.43,504.95 L161.93,505.31 L162.43,505.66 L162.93,506.00 L163.43,506.34 L163.93,506.67 L164.43,507.00 L164.93,507.31 L165.43,507.62 L165.93,507.92 L166.43,508.22 L166.93,508.51 L167.42,508.79 L167.92,509.07 L168.42,509.34 L168.92,509.60 L169.42,509.85 L169.92,510.10 L170.42,510.34 L170.92,510.58 L171.42,510.81 L171.92,511.03 L172.42,511.25 L172.92,511.46 L173.42,511.66 L173.92,511.86 L174.42,512.05 L174.92,512.24 L175.42,512.42 L175.92,512.60 L176.42,512.77 L176.92,512.93 L177.42,513.10 L177.92,513.26 L178.42,513.41 L178.92,513.56 L179.42,513.70 L179.92,513.85 L180.42,513.98 L180.92,514.12 L181.41,514.25 L181.91,514.37 L182.41,514.50 L182.91,514.61 L183.41,514.73 L183.91,514.84 L184.41,514.94 L184.91,515.05 L185.41,515.14 L185.91,515.24 L186.41,515.33 L186.91,515.42 L187.41,515.50 L187.91,515.58 L188.41,515.66 L188.91,515.73 L189.41,515.80 L189.91,515.87 L190.41,515.94 L190.91,516.01 L191.41,516.07 L191.91,516.13 L192.41,516.18 L192.91,516.24 L193.41,516.29 L193.91,516.34 L194.41,516.39 L194.91,516.44 L195.40,516.49 L195.90,516.53 L196.40,516.58 L196.90,516.62 L197.40,516.66 L197.90,516.70 L198.40,516.74 L198.90,516.77 L199.40,516.81 L199.90,516.84 L200.40,516.87 L200.90,516.90 L201.40,516.93 L201.90,516.96 L202.40,516.98" fill="none" stroke="#7a4a30" stroke-width="1.4" stroke-linejoin="round" stroke-linecap="round"/>
<path d="M60.50,520.38 L61.00,520.32 L61.50,520.25 L62.00,520.18 L62.50,520.09 L63.00,520.00 L63.50,519.91 L64.00,519.80 L64.50,519.69 L65.00,519.57 L65.50,519.45 L66.00,519.32 L66.50,519.20 L67.00,519.08 L67.50,518.96 L67.99,518.84 L68.49,518.72 L68.99,518.60 L69.49,518.48 L69.99,518.36 L70.49,518.24 L70.99,518.11 L71.49,517.98 L71.99,517.85 L72.49,517.71 L72.99,517.57 L73.49,517.42 L73.99,517.25 L74.49,517.07 L74.99,516.88 L75.49,516.68 L75.99,516.47 L76.49,516.24 L76.99,516.01 L77.49,515.76 L77.99,515.51 L78.49,515.26 L78.99,514.99 L79.49,514.72 L79.99,514.44 L80.49,514.15 L80.99,513.85 L81.49,513.55 L81.98,513.24 L82.48,512.92 L82.98,512.60 L83.48,512.27 L83.98,511.93 L84.48,511.58 L84.98,511.23 L85.48,510.85 L85.98,510.46 L86.48,510.05 L86.98,509.62 L87.48,509.17 L87.98,508.70 L88.48,508.21 L88.98,507.70 L89.48,507.16 L89.98,506.61 L90.48,506.03 L90.98,505.43 L91.48,504.82 L91.98,504.18 L92.48,503.52 L92.98,502.85 L93.48,502.15 L93.98,501.44 L94.48,500.72 L94.98,499.98 L95.48,499.22 L95.97,498.44 L96.47,497.64 L96.97,496.83 L97.47,495.99 L97.97,495.14 L98.47,494.27 L98.97,493.37 L99.47,492.46 L99.97,491.52 L100.47,490.56 L100.97,489.58 L101.47,488.58 L101.97,487.56 L102.47,486.52 L102.97,485.46 L103.47,484.38 L103.97,483.29 L104.47,482.19 L104.97,481.07 L105.47,479.93 L105.97,478.79 L106.47,477.64 L106.97,476.49 L107.47,475.32 L107.97,474.16 L108.47,472.99 L108.97,471.82 L109.47,470.64 L109.97,469.47 L110.46,468.29 L110.96,467.12 L111.46,465.94 L111.96,464.77 L112.46,463.60 L112.96,462.44 L113.46,461.28 L113.96,460.13 L114.46,458.99 L114.96,457.87 L115.46,456.75 L115.96,455.64 L116.46,454.55 L116.96,453.46 L117.46,452.38 L117.96,451.32 L118.46,450.26 L118.96,449.22 L119.46,448.20 L119.96,447.20 L120.46,446.22 L120.96,445.26 L121.46,444.33 L121.96,443.43 L122.46,442.56 L122.96,441.74 L123.46,440.95 L123.96,440.20 L124.45,439.49 L124.95,438.82 L125.45,438.20 L125.95,437.63 L126.45,437.09 L126.95,436.61 L127.45,436.17 L127.95,435.77 L128.45,435.43 L128.95,435.13 L129.45,434.89 L129.95,434.69 L130.45,434.55 L130.95,434.46 L131.45,434.42 L131.95,434.43 L132.45,434.49 L132.95,434.61 L133.45,434.79 L133.95,435.01 L134.45,435.29 L134.95,435.62 L135.45,435.99 L135.95,436.42 L136.45,436.89 L136.95,437.41 L137.45,437.97 L137.95,438.58 L138.45,439.23 L138.94,439.92 L139.44,440.66 L139.94,441.43 L140.44,442.24 L140.94,443.09 L141.44,443.97 L141.94,444.87 L142.44,445.79 L142.94,446.74 L143.44,447.69 L143.94,448.66 L144.44,449.63 L144.94,450.61 L145.44,451.59 L145.94,452.58 L146.44,453.57 L146.94,454.56 L147.44,455.56 L147.94,456.56 L148.44,457.57 L148.94,458.59 L149.44,459.60 L149.94,460.62 L150.44,461.64 L150.94,462.65 L151.44,463.67 L151.94,464.67 L152.44,465.67 L152.93,466.65 L153.43,467.63 L153.93,468.59 L154.43,469.55 L154.93,470.49 L155.43,471.42 L155.93,472.34 L156.43,473.25 L156.93,474.16 L157.43,475.05 L157.93,475.93 L158.43,476.80 L158.93,477.67 L159.43,478.52 L159.93,479.35 L160.43,480.18 L160.93,480.99 L161.43,481.79 L161.93,482.58 L162.43,483.35 L162.93,484.10 L163.43,484.84 L163.93,485.56 L164.43,486.27 L164.93,486.96 L165.43,487.63 L165.93,488.29 L166.43,488.93 L166.93,489.56 L167.42,490.18 L167.92,490.79 L168.42,491.38 L168.92,491.96 L169.42,492.52 L169.92,493.08 L170.42,493.62 L170.92,494.15 L171.42,494.67 L171.92,495.18 L172.42,495.68 L172.92,496.16 L173.42,496.63 L173.92,497.09 L174.42,497.54 L174.92,497.98 L175.42,498.41 L175.92,498.83 L176.42,499.23 L176.92,499.63 L177.42,500.02 L177.92,500.40 L178.42,500.78 L178.92,501.14 L179.42,501.50 L179.92,501.85 L180.42,502.20 L180.92,502.53 L181.41,502.86 L181.91,503.18 L182.41,503.49 L182.91,503.80 L183.41,504.09 L183.91,504.38 L184.41,504.66 L184.91,504.93 L185.41,505.20 L185.91,505.46 L186.41,505.71 L186.91,505.96 L187.41,506.20 L187.91,506.43 L188.41,506.66 L188.91,506.88 L189.41,507.10 L189.91,507.31 L190.41,507.52 L190.91,507.72 L191.41,507.92 L191.91,508.12 L192.41,508.31 L192.91,508.49 L193.41,508.67 L193.91,508.85 L194.41,509.02 L194.91,509.19 L195.40,509.35 L195.90,509.51 L196.40,509.66 L196.90,509.81 L197.40,509.96 L197.90,510.10 L198.40,510.24 L198.90,510.37 L199.40,510.51 L199.90,510.63 L200.40,510.76 L200.90,510.88 L201.40,511.01 L201.90,511.12 L202.40,511.24" fill="none" stroke="#3626c2" stroke-width="1.5" stroke-linejoin="round" stroke-linecap="round"/>
<rect x="49.50" y="423.80" width="155.00" height="97.70" fill="none" stroke="#8c8c8c" stroke-width="0.9"/>
<text x="49.50" y="531.98" font-family='"Liberation Serif", serif' font-size="7.20" text-anchor="middle" fill="#222222" stroke="#222" stroke-width="0.05">May</text>
<text x="71.95" y="531.98" font-family='"Liberation Serif", serif' font-size="7.20" text-anchor="middle" fill="#222222" stroke="#222" stroke-width="0.05">Jun</text>
<text x="93.68" y="531.98" font-family='"Liberation Serif", serif' font-size="7.20" text-anchor="middle" fill="#222222" stroke="#222" stroke-width="0.05">Jul</text>
<text x="116.14" y="531.98" font-family='"Liberation Serif", serif' font-size="7.20" text-anchor="middle" fill="#222222" stroke="#222" stroke-width="0.05">Aug</text>
<text x="138.59" y="531.98" font-family='"Liberation Serif", serif' font-size="7.20" text-anchor="middle" fill="#222222" stroke="#222" stroke-width="0.05">Sep</text>
<text x="160.32" y="531.98" font-family='"Liberation Serif", serif' font-size="7.20" text-anchor="middle" fill="#222222" stroke="#222" stroke-width="0.05">Oct</text>
<text x="182.77" y="531.98" font-family='"Liberation Serif", serif' font-size="7.20" text-anchor="middle" fill="#222222" stroke="#222" stroke-width="0.05">Nov</text>
<text x="204.50" y="531.98" font-family='"Liberation Serif", serif' font-size="7.20" text-anchor="middle" fill="#222222" stroke="#222" stroke-width="0.05">Dec</text>
<text x="46.50" y="524.68" font-family='"Liberation Serif", serif' font-size="7.20" text-anchor="end" fill="#222222" stroke="#222" stroke-width="0.05">0</text>
<text x="46.50" y="497.28" font-family='"Liberation Serif", serif' font-size="7.20" text-anchor="end" fill="#222222" stroke="#222" stroke-width="0.05">0.005</text>
<text x="46.50" y="469.88" font-family='"Liberation Serif", serif' font-size="7.20" text-anchor="end" fill="#222222" stroke="#222" stroke-width="0.05">0.01</text>
<text x="46.50" y="442.48" font-family='"Liberation Serif", serif' font-size="7.20" text-anchor="end" fill="#222222" stroke="#222" stroke-width="0.05">0.015</text>
<path d="M49.50,521.50v-1.6M49.50,423.80v1.6M71.95,521.50v-1.6M71.95,423.80v1.6M93.68,521.50v-1.6M93.68,423.80v1.6M116.14,521.50v-1.6M116.14,423.80v1.6M138.59,521.50v-1.6M138.59,423.80v1.6M160.32,521.50v-1.6M160.32,423.80v1.6M182.77,521.50v-1.6M182.77,423.80v1.6M204.50,521.50v-1.6M204.50,423.80v1.6M49.50,521.50h1.6M204.50,521.50h-1.6M49.50,494.10h1.6M204.50,494.10h-1.6M49.50,466.70h1.6M204.50,466.70h-1.6M49.50,439.30h1.6M204.50,439.30h-1.6" stroke="#8c8c8c" stroke-width="0.8" fill="none"/>
<text x="199.50" y="540.38" font-family='"Liberation Serif", serif' font-size="7.20" text-anchor="end" fill="#222222" stroke="#222" stroke-width="0.05">2021</text>
<text x="109.60" y="419.60" font-family='"Liberation Sans", sans-serif' font-size="8.40" font-weight="bold" textLength="33.80" lengthAdjust="spacingAndGlyphs" fill="#111">NIGERIA</text>
<text transform="translate(15.00,472.70) rotate(-90)" x="0" y="0" font-family='"Liberation Serif", serif' font-size="7.90" text-anchor="middle" textLength="56.60" lengthAdjust="spacingAndGlyphs" fill="#222222" stroke="#222" stroke-width="0.05">Force of infection</text>
<text transform="translate(24.50,471.65) rotate(-90)" x="0" y="0" font-family='"Liberation Serif", serif' font-size="7.90" text-anchor="middle" textLength="86.70" lengthAdjust="spacingAndGlyphs" fill="#222222" stroke="#222" stroke-width="0.05">(vaccinated,  unvaccinated)</text>
<path d="M268.80,525.75 L269.30,525.74 L269.80,525.74 L270.29,525.73 L270.79,525.72 L271.29,525.71 L271.79,525.70 L272.29,525.70 L272.79,525.69 L273.28,525.68 L273.78,525.67 L274.28,525.66 L274.78,525.65 L275.28,525.64 L275.78,525.62 L276.27,525.61 L276.77,525.59 L277.27,525.57 L277.77,525.55 L278.27,525.53 L278.77,525.51 L279.26,525.49 L279.76,525.46 L280.26,525.44 L280.76,525.41 L281.26,525.38 L281.76,525.35 L282.25,525.32 L282.75,525.29 L283.25,525.26 L283.75,525.22 L284.25,525.19 L284.74,525.15 L285.24,525.12 L285.74,525.08 L286.24,525.04 L286.74,525.01 L287.24,524.97 L287.73,524.94 L288.23,524.91 L288.73,524.88 L289.23,524.84 L289.73,524.81 L290.23,524.77 L290.72,524.73 L291.22,524.68 L291.72,524.63 L292.22,524.57 L292.72,524.50 L293.22,524.42 L293.71,524.34 L294.21,524.25 L294.71,524.15 L295.21,524.05 L295.71,523.93 L296.21,523.81 L296.70,523.68 L297.20,523.54 L297.70,523.40 L298.20,523.25 L298.70,523.09 L299.19,522.93 L299.69,522.76 L300.19,522.59 L300.69,522.41 L301.19,522.23 L301.69,522.05 L302.18,521.86 L302.68,521.66 L303.18,521.45 L303.68,521.24 L304.18,521.02 L304.68,520.79 L305.17,520.56 L305.67,520.31 L306.17,520.07 L306.67,519.81 L307.17,519.55 L307.67,519.28 L308.16,519.00 L308.66,518.71 L309.16,518.42 L309.66,518.11 L310.16,517.80 L310.66,517.48 L311.15,517.14 L311.65,516.79 L312.15,516.43 L312.65,516.05 L313.15,515.66 L313.64,515.25 L314.14,514.83 L314.64,514.38 L315.14,513.92 L315.64,513.45 L316.14,512.96 L316.63,512.45 L317.13,511.93 L317.63,511.40 L318.13,510.85 L318.63,510.29 L319.13,509.71 L319.62,509.12 L320.12,508.52 L320.62,507.91 L321.12,507.29 L321.62,506.65 L322.12,506.00 L322.61,505.34 L323.11,504.66 L323.61,503.97 L324.11,503.26 L324.61,502.54 L325.11,501.79 L325.60,501.03 L326.10,500.25 L326.60,499.45 L327.10,498.64 L327.60,497.81 L328.09,496.97 L328.59,496.11 L329.09,495.25 L329.59,494.37 L330.09,493.48 L330.59,492.59 L331.08,491.69 L331.58,490.79 L332.08,489.90 L332.58,489.00 L333.08,488.11 L333.58,487.23 L334.07,486.36 L334.57,485.49 L335.07,484.63 L335.57,483.78 L336.07,482.95 L336.57,482.12 L337.06,481.32 L337.56,480.52 L338.06,479.75 L338.56,479.00 L339.06,478.27 L339.56,477.57 L340.05,476.89 L340.55,476.24 L341.05,475.62 L341.55,475.03 L342.05,474.47 L342.54,473.95 L343.04,473.47 L343.54,473.03 L344.04,472.62 L344.54,472.26 L345.04,471.93 L345.53,471.65 L346.03,471.41 L346.53,471.20 L347.03,471.04 L347.53,470.92 L348.03,470.85 L348.52,470.82 L349.02,470.82 L349.52,470.85 L350.02,470.91 L350.52,471.00 L351.02,471.11 L351.51,471.24 L352.01,471.40 L352.51,471.58 L353.01,471.79 L353.51,472.02 L354.01,472.27 L354.50,472.55 L355.00,472.84 L355.50,473.16 L356.00,473.51 L356.50,473.87 L356.99,474.26 L357.49,474.66 L357.99,475.09 L358.49,475.53 L358.99,475.99 L359.49,476.47 L359.98,476.97 L360.48,477.47 L360.98,478.00 L361.48,478.53 L361.98,479.08 L362.48,479.64 L362.97,480.20 L363.47,480.78 L363.97,481.37 L364.47,481.96 L364.97,482.55 L365.47,483.15 L365.96,483.75 L366.46,484.35 L366.96,484.96 L367.46,485.56 L367.96,486.16 L368.46,486.77 L368.95,487.37 L369.45,487.97 L369.95,488.57 L370.45,489.17 L370.95,489.76 L371.44,490.35 L371.94,490.95 L372.44,491.53 L372.94,492.12 L373.44,492.70 L373.94,493.27 L374.43,493.84 L374.93,494.40 L375.43,494.95 L375.93,495.50 L376.43,496.04 L376.93,496.57 L377.42,497.10 L377.92,497.61 L378.42,498.12 L378.92,498.62 L379.42,499.11 L379.92,499.59 L380.41,500.06 L380.91,500.53 L381.41,500.98 L381.91,501.43 L382.41,501.86 L382.91,502.29 L383.40,502.72 L383.90,503.13 L384.40,503.54 L384.90,503.95 L385.40,504.34 L385.89,504.74 L386.39,505.12 L386.89,505.50 L387.39,505.88 L387.89,506.25 L388.39,506.61 L388.88,506.97 L389.38,507.32 L389.88,507.67 L390.38,508.02 L390.88,508.35 L391.38,508.69 L391.87,509.01 L392.37,509.34 L392.87,509.65 L393.37,509.96 L393.87,510.27 L394.37,510.56 L394.86,510.85 L395.36,511.13 L395.86,511.41 L396.36,511.67 L396.86,511.93 L397.36,512.18 L397.85,512.43 L398.35,512.67 L398.85,512.90 L399.35,513.13 L399.85,513.35 L400.34,513.57 L400.84,513.78 L401.34,513.98 L401.84,514.18 L402.34,514.37 L402.84,514.56 L403.33,514.74 L403.83,514.92 L404.33,515.10 L404.83,515.27 L405.33,515.44 L405.83,515.61 L406.32,515.77 L406.82,515.93 L407.32,516.09 L407.82,516.24 L408.32,516.39 L408.82,516.53 L409.31,516.68 L409.81,516.82 L410.31,516.95 L410.81,517.09 L411.31,517.22 L411.81,517.35 L412.30,517.47 L412.80,517.59 L413.30,517.71" fill="none" stroke="#7a4a30" stroke-width="1.4" stroke-linejoin="round" stroke-linecap="round"/>
<path d="M268.80,525.66 L269.30,525.64 L269.80,525.62 L270.29,525.60 L270.79,525.58 L271.29,525.55 L271.79,525.53 L272.29,525.50 L272.79,525.48 L273.28,525.46 L273.78,525.43 L274.28,525.41 L274.78,525.40 L275.28,525.38 L275.78,525.36 L276.27,525.35 L276.77,525.33 L277.27,525.30 L277.77,525.28 L278.27,525.24 L278.77,525.21 L279.26,525.17 L279.76,525.12 L280.26,525.07 L280.76,525.01 L281.26,524.95 L281.76,524.88 L282.25,524.80 L282.75,524.73 L283.25,524.64 L283.75,524.56 L284.25,524.47 L284.74,524.38 L285.24,524.29 L285.74,524.21 L286.24,524.12 L286.74,524.04 L287.24,523.95 L287.73,523.86 L288.23,523.77 L288.73,523.67 L289.23,523.56 L289.73,523.45 L290.23,523.33 L290.72,523.20 L291.22,523.06 L291.72,522.91 L292.22,522.75 L292.72,522.59 L293.22,522.42 L293.71,522.23 L294.21,522.04 L294.71,521.84 L295.21,521.64 L295.71,521.43 L296.21,521.22 L296.70,521.00 L297.20,520.77 L297.70,520.54 L298.20,520.30 L298.70,520.05 L299.19,519.78 L299.69,519.50 L300.19,519.21 L300.69,518.90 L301.19,518.58 L301.69,518.24 L302.18,517.88 L302.68,517.51 L303.18,517.12 L303.68,516.72 L304.18,516.30 L304.68,515.86 L305.17,515.41 L305.67,514.95 L306.17,514.47 L306.67,513.97 L307.17,513.46 L307.67,512.94 L308.16,512.39 L308.66,511.82 L309.16,511.24 L309.66,510.63 L310.16,510.00 L310.66,509.34 L311.15,508.67 L311.65,507.97 L312.15,507.25 L312.65,506.51 L313.15,505.75 L313.64,504.98 L314.14,504.18 L314.64,503.36 L315.14,502.52 L315.64,501.66 L316.14,500.78 L316.63,499.87 L317.13,498.93 L317.63,497.97 L318.13,496.99 L318.63,495.98 L319.13,494.95 L319.62,493.90 L320.12,492.82 L320.62,491.72 L321.12,490.60 L321.62,489.46 L322.12,488.31 L322.61,487.14 L323.11,485.95 L323.61,484.74 L324.11,483.52 L324.61,482.30 L325.11,481.06 L325.60,479.81 L326.10,478.55 L326.60,477.29 L327.10,476.02 L327.60,474.74 L328.09,473.44 L328.59,472.13 L329.09,470.81 L329.59,469.47 L330.09,468.12 L330.59,466.74 L331.08,465.35 L331.58,463.93 L332.08,462.51 L332.58,461.06 L333.08,459.61 L333.58,458.16 L334.07,456.72 L334.57,455.29 L335.07,453.87 L335.57,452.48 L336.07,451.10 L336.57,449.75 L337.06,448.42 L337.56,447.11 L338.06,445.82 L338.56,444.56 L339.06,443.33 L339.56,442.14 L340.05,440.99 L340.55,439.88 L341.05,438.83 L341.55,437.84 L342.05,436.91 L342.54,436.04 L343.04,435.24 L343.54,434.50 L344.04,433.84 L344.54,433.25 L345.04,432.72 L345.53,432.26 L346.03,431.85 L346.53,431.51 L347.03,431.22 L347.53,430.98 L348.03,430.79 L348.52,430.66 L349.02,430.58 L349.52,430.57 L350.02,430.60 L350.52,430.69 L351.02,430.84 L351.51,431.04 L352.01,431.29 L352.51,431.61 L353.01,431.97 L353.51,432.40 L354.01,432.87 L354.50,433.40 L355.00,433.97 L355.50,434.59 L356.00,435.25 L356.50,435.95 L356.99,436.69 L357.49,437.46 L357.99,438.26 L358.49,439.08 L358.99,439.94 L359.49,440.81 L359.98,441.70 L360.48,442.61 L360.98,443.54 L361.48,444.50 L361.98,445.48 L362.48,446.48 L362.97,447.51 L363.47,448.56 L363.97,449.64 L364.47,450.74 L364.97,451.86 L365.47,452.99 L365.96,454.14 L366.46,455.31 L366.96,456.48 L367.46,457.66 L367.96,458.83 L368.46,460.00 L368.95,461.15 L369.45,462.29 L369.95,463.41 L370.45,464.51 L370.95,465.60 L371.44,466.66 L371.94,467.72 L372.44,468.76 L372.94,469.78 L373.44,470.79 L373.94,471.78 L374.43,472.75 L374.93,473.71 L375.43,474.66 L375.93,475.59 L376.43,476.51 L376.93,477.41 L377.42,478.30 L377.92,479.17 L378.42,480.04 L378.92,480.89 L379.42,481.73 L379.92,482.55 L380.41,483.36 L380.91,484.16 L381.41,484.94 L381.91,485.71 L382.41,486.46 L382.91,487.19 L383.40,487.91 L383.90,488.62 L384.40,489.31 L384.90,489.99 L385.40,490.65 L385.89,491.30 L386.39,491.94 L386.89,492.56 L387.39,493.17 L387.89,493.77 L388.39,494.35 L388.88,494.92 L389.38,495.48 L389.88,496.03 L390.38,496.57 L390.88,497.09 L391.38,497.60 L391.87,498.10 L392.37,498.59 L392.87,499.07 L393.37,499.54 L393.87,499.99 L394.37,500.44 L394.86,500.87 L395.36,501.29 L395.86,501.70 L396.36,502.11 L396.86,502.50 L397.36,502.89 L397.85,503.26 L398.35,503.63 L398.85,503.98 L399.35,504.33 L399.85,504.67 L400.34,505.00 L400.84,505.32 L401.34,505.63 L401.84,505.94 L402.34,506.24 L402.84,506.53 L403.33,506.82 L403.83,507.10 L404.33,507.37 L404.83,507.64 L405.33,507.91 L405.83,508.16 L406.32,508.42 L406.82,508.67 L407.32,508.91 L407.82,509.15 L408.32,509.39 L408.82,509.62 L409.31,509.85 L409.81,510.07 L410.31,510.28 L410.81,510.49 L411.31,510.69 L411.81,510.89 L412.30,511.08 L412.80,511.26 L413.30,511.44" fill="none" stroke="#3626c2" stroke-width="1.5" stroke-linejoin="round" stroke-linecap="round"/>
<rect x="267.00" y="428.10" width="156.50" height="97.90" fill="none" stroke="#8c8c8c" stroke-width="0.9"/>
<text x="267.00" y="536.48" font-family='"Liberation Serif", serif' font-size="7.20" text-anchor="middle" fill="#222222" stroke="#222" stroke-width="0.05">Mar</text>
<text x="282.85" y="536.48" font-family='"Liberation Serif", serif' font-size="7.20" text-anchor="middle" fill="#222222" stroke="#222" stroke-width="0.05">Apr</text>
<text x="298.20" y="536.48" font-family='"Liberation Serif", serif' font-size="7.20" text-anchor="middle" fill="#222222" stroke="#222" stroke-width="0.05">May</text>
<text x="314.05" y="536.48" font-family='"Liberation Serif", serif' font-size="7.20" text-anchor="middle" fill="#222222" stroke="#222" stroke-width="0.05">Jun</text>
<text x="329.40" y="536.48" font-family='"Liberation Serif", serif' font-size="7.20" text-anchor="middle" fill="#222222" stroke="#222" stroke-width="0.05">Jul</text>
<text x="345.25" y="536.48" font-family='"Liberation Serif", serif' font-size="7.20" text-anchor="middle" fill="#222222" stroke="#222" stroke-width="0.05">Aug</text>
<text x="361.10" y="536.48" font-family='"Liberation Serif", serif' font-size="7.20" text-anchor="middle" fill="#222222" stroke="#222" stroke-width="0.05">Sep</text>
<text x="376.45" y="536.48" font-family='"Liberation Serif", serif' font-size="7.20" text-anchor="middle" fill="#222222" stroke="#222" stroke-width="0.05">Oct</text>
<text x="392.30" y="536.48" font-family='"Liberation Serif", serif' font-size="7.20" text-anchor="middle" fill="#222222" stroke="#222" stroke-width="0.05">Nov</text>
<text x="407.65" y="536.48" font-family='"Liberation Serif", serif' font-size="7.20" text-anchor="middle" fill="#222222" stroke="#222" stroke-width="0.05">Dec</text>
<text x="423.50" y="536.48" font-family='"Liberation Serif", serif' font-size="7.20" text-anchor="middle" fill="#222222" stroke="#222" stroke-width="0.05">Jan</text>
<text x="264.00" y="529.18" font-family='"Liberation Serif", serif' font-size="7.20" text-anchor="end" fill="#222222" stroke="#222" stroke-width="0.05">0</text>
<text x="264.00" y="512.86" font-family='"Liberation Serif", serif' font-size="7.20" text-anchor="end" fill="#222222" stroke="#222" stroke-width="0.05">0.002</text>
<text x="264.00" y="496.54" font-family='"Liberation Serif", serif' font-size="7.20" text-anchor="end" fill="#222222" stroke="#222" stroke-width="0.05">0.004</text>
<text x="264.00" y="480.23" font-family='"Liberation Serif", serif' font-size="7.20" text-anchor="end" fill="#222222" stroke="#222" stroke-width="0.05">0.006</text>
<text x="264.00" y="463.91" font-family='"Liberation Serif", serif' font-size="7.20" text-anchor="end" fill="#222222" stroke="#222" stroke-width="0.05">0.008</text>
<text x="264.00" y="447.59" font-family='"Liberation Serif", serif' font-size="7.20" text-anchor="end" fill="#222222" stroke="#222" stroke-width="0.05">0.01</text>
<text x="264.00" y="431.28" font-family='"Liberation Serif", serif' font-size="7.20" text-anchor="end" fill="#222222" stroke="#222" stroke-width="0.05">0.012</text>
<path d="M267.00,526.00v-1.6M267.00,428.10v1.6M282.85,526.00v-1.6M282.85,428.10v1.6M298.20,526.00v-1.6M298.20,428.10v1.6M314.05,526.00v-1.6M314.05,428.10v1.6M329.40,526.00v-1.6M329.40,428.10v1.6M345.25,526.00v-1.6M345.25,428.10v1.6M361.10,526.00v-1.6M361.10,428.10v1.6M376.45,526.00v-1.6M376.45,428.10v1.6M392.30,526.00v-1.6M392.30,428.10v1.6M407.65,526.00v-1.6M407.65,428.10v1.6M423.50,526.00v-1.6M423.50,428.10v1.6M267.00,526.00h1.6M423.50,526.00h-1.6M267.00,509.68h1.6M423.50,509.68h-1.6M267.00,493.37h1.6M423.50,493.37h-1.6M267.00,477.05h1.6M423.50,477.05h-1.6M267.00,460.73h1.6M423.50,460.73h-1.6M267.00,444.42h1.6M423.50,444.42h-1.6M267.00,428.10h1.6M423.50,428.10h-1.6" stroke="#8c8c8c" stroke-width="0.8" fill="none"/>
<text x="418.50" y="544.88" font-family='"Liberation Serif", serif' font-size="7.20" text-anchor="end" fill="#222222" stroke="#222" stroke-width="0.05">2021</text>
<text x="327.10" y="424.90" font-family='"Liberation Sans", sans-serif' font-size="8.40" font-weight="bold" textLength="35.40" lengthAdjust="spacingAndGlyphs" fill="#111">RWANDA</text>
</svg>
</body></html>
